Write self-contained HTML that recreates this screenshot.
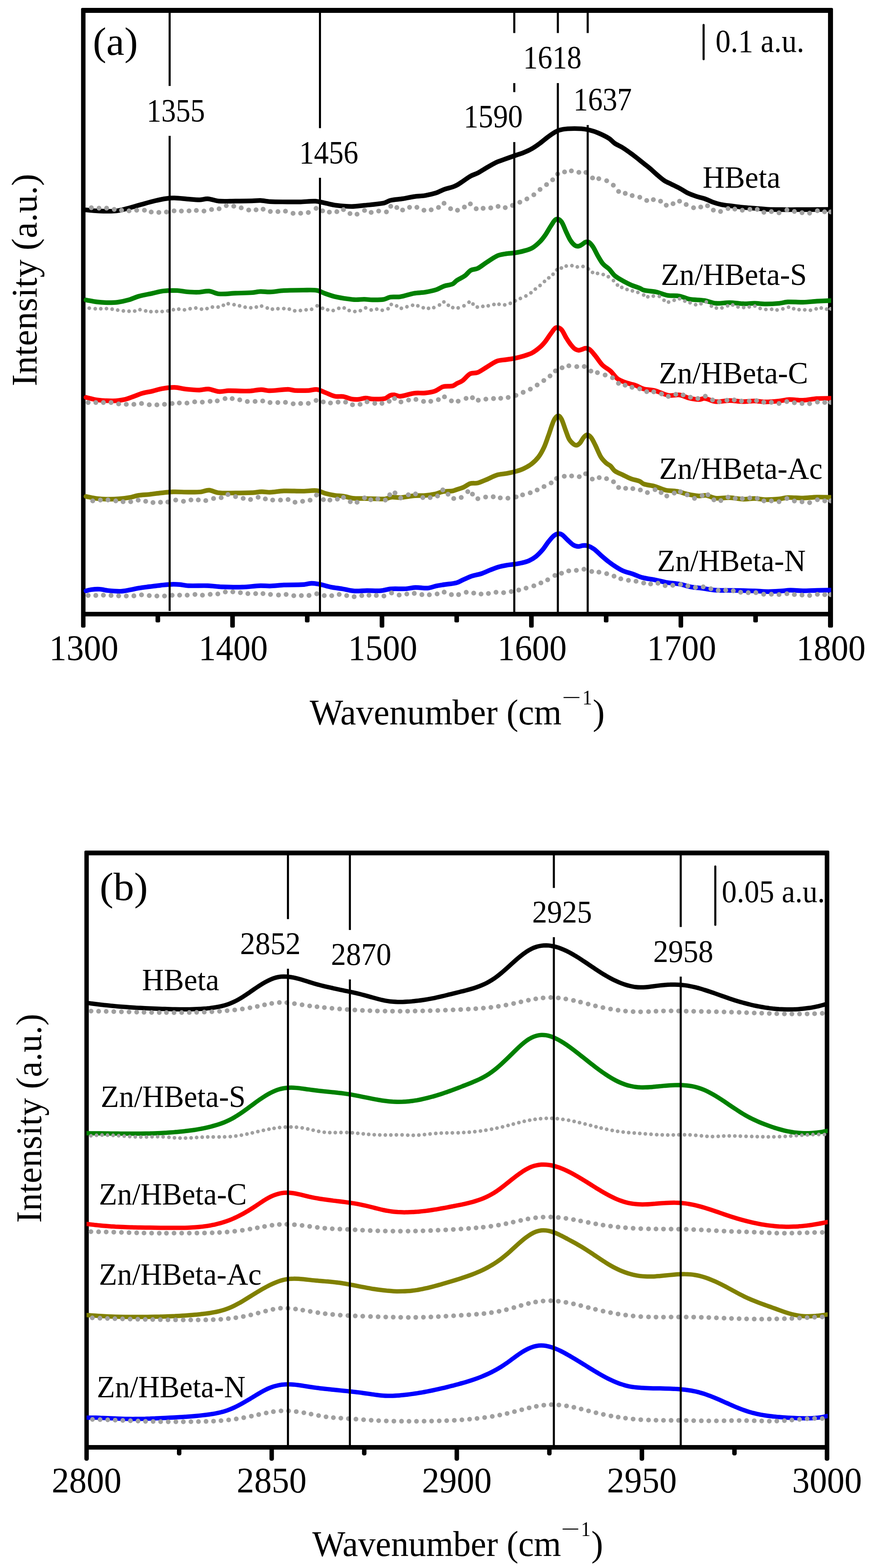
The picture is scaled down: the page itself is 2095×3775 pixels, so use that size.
<!DOCTYPE html>
<html lang="en"><head><meta charset="utf-8"><title>FTIR spectra</title>
<style>html,body{margin:0;padding:0;background:#fff}svg{display:block}text{font-family:'Liberation Serif', 'Times New Roman', Times, serif;fill:#000;white-space:pre}</style></head>
<body>
<svg width="2095" height="3775" viewBox="0 0 2095 3775">
<rect width="2095" height="3775" fill="#fff"/>
<g id="panel-a">
<path d="M205.9 1507.5A3.5 3.5 0 0 1 202.4 1511H198.8A3.5 3.5 0 0 1 195.2 1507.5V21.9A3 3 0 0 1 198.2 18.9H2002.9A3 3 0 0 1 2005.9 21.9V1507.5A3.5 3.5 0 0 1 2002.4 1511H1997.4A3.5 3.5 0 0 1 1993.9 1507.5V30.9H205.9Z" fill="#000"/>
<path d="M200.6 1478.5H1999.9" fill="none" stroke="#000" stroke-width="11"/>
<path d="M554.4 1478.5V1507.5A3.5 3.5 0 0 0 557.9 1511H562A3.5 3.5 0 0 0 565.5 1507.5V1478.5ZM914.3 1478.5V1507.5A3.5 3.5 0 0 0 917.8 1511H921.9A3.5 3.5 0 0 0 925.4 1507.5V1478.5ZM1274.1 1478.5V1507.5A3.5 3.5 0 0 0 1277.6 1511H1281.7A3.5 3.5 0 0 0 1285.2 1507.5V1478.5ZM1634 1478.5V1507.5A3.5 3.5 0 0 0 1637.5 1511H1641.6A3.5 3.5 0 0 0 1645.1 1507.5V1478.5ZM374.5 1478.5V1495A3.5 3.5 0 0 0 378 1498.5H382.1A3.5 3.5 0 0 0 385.6 1495V1478.5ZM734.3 1478.5V1495A3.5 3.5 0 0 0 737.8 1498.5H741.9A3.5 3.5 0 0 0 745.4 1495V1478.5ZM1094.2 1478.5V1495A3.5 3.5 0 0 0 1097.7 1498.5H1101.8A3.5 3.5 0 0 0 1105.3 1495V1478.5ZM1454.1 1478.5V1495A3.5 3.5 0 0 0 1457.6 1498.5H1461.7A3.5 3.5 0 0 0 1465.2 1495V1478.5ZM1813.9 1478.5V1495A3.5 3.5 0 0 0 1817.4 1498.5H1821.5A3.5 3.5 0 0 0 1825 1495V1478.5Z" fill="#000"/>
<clipPath id="clip-a"><rect x="194" y="24.9" width="1807.5" height="1453.6"/></clipPath>
<g clip-path="url(#clip-a)" fill="none">
<path d="M207 505.4C215.8 506.2 224.6 507.5 233.4 507.7C248.9 508.2 264.5 509.4 280.1 507.7C292.3 506.5 304.5 502.2 316.7 499.1C324.5 497.1 332.3 494.5 340.1 492.4C351.2 489.3 362.3 486 373.4 483.4C382.3 481.3 391.2 479.3 400.1 478.1C406.8 477.1 413.5 476.6 420.1 476.7C430.2 476.9 440.2 478.3 450.2 479.1C460.2 479.8 470.2 481.1 480.2 481.1C486.9 481 493.5 478.3 500.2 478.7C509.1 479.3 518 483.3 526.9 484.1C540.2 485.1 553.6 484.1 566.9 484.1C580.3 484 593.6 484 606.9 483.7C613.6 483.6 620.3 482.5 627 482.7C634.6 483 642.3 485 650 485.4C664.5 486.1 678.9 485.9 693.4 486.1C703.4 486.1 713.4 486.3 723.4 486.1C735.6 485.8 747.8 483.8 760.1 484.4C767.9 484.8 775.6 487.5 783.4 489.1C792.3 490.8 801.2 493.3 810.1 494.4C822.3 495.9 834.6 497.1 846.8 497.1C856.8 497.1 866.8 495.4 876.8 494.4C892.4 492.8 907.9 492 923.5 489.1C929.1 488 934.6 483.7 940.2 482.4C950.2 480.1 960.2 480 970.2 478.4C979.1 477 988 474.7 996.9 473.4C1005.8 472.1 1014.7 472.2 1023.6 470.7C1032.5 469.2 1041.4 467.2 1050.3 464.4C1056.9 462.2 1063.6 458.1 1070.3 455.7C1077 453.3 1083.6 452.3 1090.3 450C1093.5 449 1096.8 447.5 1100 445.8C1103.9 443.7 1107.8 441 1111.7 438.4C1118.9 433.7 1126.1 427.8 1133.4 423.8C1138.9 420.6 1144.5 419.6 1150 416.8C1155.6 413.9 1161.2 410 1166.7 406.8C1175.6 401.6 1184.5 396.1 1193.4 391.7C1200.1 388.5 1206.7 386.5 1213.4 384.1C1221.7 381 1230.1 378 1238.4 375.1C1245.7 372.5 1252.9 370.6 1260.1 367.7C1266.8 365.1 1273.4 362.2 1280.1 358.4C1286.8 354.6 1293.5 349.9 1300.1 345C1305.7 341 1311.3 335.9 1316.8 331.7C1322.4 327.5 1327.9 323.4 1333.5 320C1337.9 317.3 1342.4 314.7 1346.8 313.4C1353.5 311.4 1360.2 310.4 1366.8 310C1378 309.3 1389.1 309.3 1400.2 310C1406.9 310.4 1413.5 311.7 1420.2 313.4C1426.9 315 1433.6 317.2 1440.2 320C1449.1 323.8 1458 327.8 1466.9 333.4C1471.4 336.1 1475.8 342 1480.3 345C1486.9 349.6 1493.6 351.8 1500.3 356.1C1509.2 361.8 1518.1 368.4 1527 375.1C1534.6 380.8 1542.3 387.2 1550 393.3C1555.6 397.8 1561.1 402 1566.7 406.7C1572.2 411.4 1577.8 417 1583.4 421.7C1588.9 426.4 1594.5 431.4 1600 435C1605.6 438.7 1611.2 440.6 1616.7 443.4C1623.4 446.7 1630.1 449.8 1636.7 453.4C1643.4 457 1650.1 461.8 1656.7 465.1C1663.4 468.3 1670.1 470.5 1676.8 472.7C1683.4 475 1690.1 476.1 1696.8 478.4C1703.4 480.7 1710.1 484.4 1716.8 486.7C1723.4 489.1 1730.1 491.1 1736.8 492.4C1745.7 494.2 1754.6 494.9 1763.5 496.1C1772.4 497.2 1781.3 498.5 1790.2 499.4C1799.1 500.3 1807.9 500.7 1816.8 501.4C1828 502.3 1839.1 503.5 1850.2 504.1C1861.3 504.6 1872.4 504.6 1883.6 504.7C1894.7 504.9 1905.8 504.7 1916.9 504.7C1928 504.7 1939.1 504.8 1950.3 504.7C1966.9 504.6 1983.6 504.3 2000.3 504.1C2001.4 504.1 2002.4 504.1 2003.5 504.1" stroke="#000" stroke-width="11.2" stroke-linejoin="round" stroke-linecap="round"/>
<path d="M220 500.1h0M238.4 501.1h0M256.7 501.1h0M275.1 504.1h0M292.7 506.1h0M310.7 507.7h0M329.1 506.1h0M347.8 506.1h0M364.1 510.4h0M382.5 511.4h0M400.8 510.4h0M419.1 507.7h0M436.8 508.1h0M455.2 507.7h0M472.8 506.7h0M491.2 508.1h0M509.5 504.4h0M527.6 502.7h0M544.9 495.1h0M562.9 496.4h0M580.9 500.4h0M598.9 505.7h0M616.6 505.1h0M633.6 503.7h0M651 509.1h0M669.3 509.4h0M687.4 508.4h0M705.7 513.7h0M724 513.4h0M742.4 511.7h0M761.1 501.7h0M776.8 507.7h0M793.1 510.7h0M811.1 509.7h0M827.1 504.7h0M842.8 514.1h0M859.8 515.7h0M877.8 506.7h0M893.8 511.4h0M911.8 508.1h0M930.5 510.1h0M940.9 496.7h0M955.5 499.7h0M969.5 505.7h0M986.2 499.1h0M1003.9 499.1h0M1020.9 506.1h0M1038.3 505.1h0M1055.9 499.4h0M1069.3 489.4h0M1085 502.4h0M1101.7 506.2h0M1118.3 498.5h0M1132.7 490.8h0M1146.7 502.5h0M1163.4 501.5h0M1181.7 500.5h0M1199.4 496.8h0M1216.7 499.8h0M1234.1 494.5h0M1251.8 486.8h0M1268.8 478.8h0M1285.5 468.8h0M1300.5 456.1h0M1316.1 444.4h0M1330.8 432.8h0M1342.8 418.8h0M1359.5 413.8h0M1375.9 411.4h0M1393.9 414.8h0M1410.9 415.1h0M1426.9 428.4h0M1441.9 430.1h0M1460.9 435.1h0M1476.9 445.8h0M1489.6 460.8h0M1505.6 465.5h0M1522.3 470.8h0M1540.6 474.8h0M1557.3 482.7h0M1573.3 480.7h0M1590.7 484.4h0M1604.4 494.1h0M1620.7 490.4h0M1636.4 484.4h0M1652.4 492.4h0M1670.1 500.1h0M1687.4 498.4h0M1703.8 495.4h0M1717.8 505.8h0M1735.1 509.1h0M1753.1 502.1h0M1769.5 503.4h0M1787.5 506.1h0M1805.8 504.1h0M1823.5 504.1h0M1839.5 511.1h0M1857.5 509.4h0M1875.9 512.4h0M1894.9 505.4h0M1912.9 509.1h0M1931.3 512.1h0M1949.6 513.1h0M1968.3 507.4h0M1985.6 509.8h0M2000.3 510.1h0" stroke="#a0a0a0" stroke-width="11.8" stroke-linecap="round"/>
<path d="M207 722.2C215.8 723.8 224.6 725.8 233.4 726.9C241.1 727.9 248.9 728.4 256.7 728.6C265.6 728.7 274.5 728.7 283.4 727.6C292.3 726.4 301.2 724.4 310.1 721.9C317.9 719.7 325.6 715.7 333.4 713.5C344.5 710.5 355.7 708.6 366.8 706.2C375.7 704.3 384.6 701.5 393.5 700.5C404.6 699.3 415.7 699.1 426.8 699.5C434.6 699.8 442.4 701.9 450.2 702.5C459.1 703.2 468 703.8 476.9 703.5C485.7 703.3 494.6 700.2 503.5 700.9C511.3 701.5 519.1 706.9 526.9 707.5C540.2 708.6 553.6 706.4 566.9 705.9C580.3 705.4 593.6 705.4 606.9 704.5C613.6 704.1 620.3 702.1 627 701.9C634.6 701.6 642.3 703.2 650 702.9C661.1 702.4 672.2 700.1 683.4 699.5C698.9 698.7 714.5 698.6 730.1 698.5C741.2 698.5 752.3 697.5 763.4 699.2C770.1 700.2 776.8 704.6 783.4 706.9C791.2 709.6 799 712.4 806.8 714.2C816.8 716.6 826.8 718.1 836.8 719.5C843.5 720.5 850.1 721.4 856.8 721.5C863.5 721.7 870.1 720.5 876.8 720.5C883.5 720.6 890.2 721.8 896.8 721.9C905.7 721.9 914.6 722.2 923.5 720.9C929.1 720 934.6 716.1 940.2 715.2C948 714 955.8 715.8 963.5 714.5C974.7 712.8 985.8 708.2 996.9 706.2C1005.8 704.6 1014.7 705 1023.6 703.5C1032.5 702.1 1041.4 700.4 1050.3 697.5C1056.9 695.4 1063.6 690.9 1070.3 688.5C1077 686.2 1083.6 686.5 1090.3 683.5C1093.5 682.1 1096.8 677.4 1100 675.3C1106.7 670.8 1113.3 668.5 1120 663.6C1124.5 660.3 1128.9 653.5 1133.4 650.9C1138.9 647.7 1144.5 649 1150 646.2C1156.7 643 1163.4 637.2 1170 632.9C1178.9 627.2 1187.8 620.4 1196.7 616.2C1203.4 613.1 1210.1 612.4 1216.7 611.2C1224 609.9 1231.2 610 1238.4 608.9C1245.7 607.8 1252.9 606.6 1260.1 604.5C1267.3 602.5 1274.6 601 1281.8 596.9C1287.9 593.4 1294 588 1300.1 581.9C1304.6 577.4 1309 571.6 1313.5 565.2C1317.9 558.8 1322.4 550.1 1326.8 543.5C1330.7 537.7 1334.6 529.7 1338.5 528.2C1342.9 526.4 1347.4 528.1 1351.8 533.5C1355.7 538.2 1359.6 550.4 1363.5 558.5C1366.8 565.4 1370.2 573.3 1373.5 578.5C1376.9 583.8 1380.2 587.6 1383.5 590.2C1386.3 592.4 1389.1 593 1391.9 592.9C1394.6 592.8 1397.4 591.1 1400.2 589.5C1403.5 587.7 1406.9 584 1410.2 582.9C1413 582 1415.8 581.7 1418.5 583.5C1421.9 585.8 1425.2 590.1 1428.6 595.2C1432.4 601.2 1436.3 610.2 1440.2 616.9C1444.1 623.6 1448 630.7 1451.9 635.2C1456.9 641.1 1461.9 642.9 1466.9 647.9C1471.4 652.4 1475.8 659.8 1480.3 663.6C1486.9 669.3 1493.6 672.5 1500.3 676.3C1506.9 680 1513.6 683.4 1520.3 686.3C1527 689.2 1533.6 690.9 1540.3 693.6C1543.5 694.9 1546.8 697.8 1550 698.5C1560 700.9 1570 700.7 1580 702.9C1588.9 704.8 1597.8 709.3 1606.7 710.9C1616.7 712.7 1626.7 711.1 1636.7 712.9C1644.5 714.3 1652.3 718.8 1660.1 720.2C1672.3 722.4 1684.5 721.6 1696.8 723.6C1705.7 725 1714.6 729.5 1723.4 730.2C1734.6 731.2 1745.7 728.4 1756.8 728.6C1767.9 728.7 1779 730.9 1790.2 731.2C1799.1 731.5 1807.9 730.1 1816.8 730.2C1825.7 730.3 1834.6 731.9 1843.5 731.9C1854.6 731.9 1865.8 731.3 1876.9 730.2C1883.6 729.6 1890.2 727.2 1896.9 726.9C1909.1 726.3 1921.4 727.9 1933.6 727.6C1944.7 727.3 1955.8 725.9 1966.9 725.2C1978.1 724.6 1989.2 724.1 2000.3 723.6C2001.4 723.5 2002.4 723.5 2003.5 723.5" stroke="#008000" stroke-width="11.2" stroke-linejoin="round" stroke-linecap="round"/>
<path d="M215 741.9h0M229.4 743.2h0M242.7 743.2h0M256.4 742.9h0M270 744.2h0M283.4 746.6h0M297.1 748.6h0M310.7 749.2h0M324.4 748.9h0M337.1 745.6h0M350.8 748.6h0M363.4 750.2h0M377.1 749.9h0M390.5 749.9h0M404.1 748.6h0M417.5 745.6h0M430.5 744.2h0M444.2 745.9h0M457.8 743.2h0M471.5 741.6h0M485.2 744.2h0M498.5 742.9h0M511.5 739.2h0M525.2 739.2h0M537.9 734.9h0M549.6 731.2h0M563.6 733.6h0M576.9 736.2h0M590.3 739.6h0M603.9 740.9h0M617.3 739.2h0M630 736.9h0M643.6 741.6h0M656 744.2h0M669.3 743.2h0M683.4 742.9h0M696.7 744.2h0M709.7 748.2h0M723.4 747.6h0M737.1 745.9h0M750.4 744.6h0M763.7 736.2h0M776.8 742.2h0M789.1 745.9h0M802.4 747.6h0M815.8 742.2h0M828.8 741.6h0M840.8 747.6h0M854.5 749.9h0M867.8 747.9h0M880.5 741.2h0M893.8 746.2h0M907.2 744.2h0M920.5 746.9h0M934.5 743.2h0M942.2 732.9h0M955.2 736.6h0M966.5 742.2h0M979.9 738.6h0M993.6 734.9h0M1006.2 736.2h0M1019.2 740.9h0M1031.9 742.2h0M1044.6 740.6h0M1058.3 734.2h0M1068.9 726.9h0M1079.6 734.9h0M1090.3 740.6h0M1103.3 741.3h0M1117.3 736.3h0M1129.4 727.6h0M1139 732h0M1149.4 739.3h0M1162.7 737.6h0M1175.7 736.3h0M1189.4 733h0M1201.7 732.6h0M1215.4 734h0M1228.8 730.3h0M1240.8 724.3h0M1253.1 718.6h0M1266.4 712.6h0M1278.5 704.9h0M1289.1 695.9h0M1300.5 687.3h0M1311.1 677.6h0M1321.5 668.9h0M1331.8 660.3h0M1340.8 649.6h0M1351.8 645.2h0M1363.5 640.6h0M1377.2 639.6h0M1390.2 642.6h0M1403.9 641.6h0M1416.9 647.6h0M1426.9 655.9h0M1438.9 658.3h0M1452.6 660.9h0M1464.9 666.3h0M1477.3 675.6h0M1486.9 686.3h0M1497.3 691.9h0M1509.9 696.9h0M1522.9 700.3h0M1536 703.9h0M1550 710.2h0M1560 714.6h0M1573.3 712.9h0M1587.7 713.6h0M1599 722.9h0M1610 727.2h0M1623.4 722.9h0M1636.4 719.2h0M1649.1 724.9h0M1661.7 728.9h0M1675.1 733.6h0M1688.1 731.2h0M1700.8 726.9h0M1713.1 736.9h0M1725.1 741.6h0M1738.5 741.2h0M1752.1 736.2h0M1764.5 734.2h0M1777.2 738.9h0M1790.8 740.2h0M1804.2 738.9h0M1817.8 736.9h0M1830.5 742.6h0M1844.2 744.9h0M1858.2 744.6h0M1871.2 746.2h0M1885.2 743.6h0M1898.9 739.6h0M1911.2 743.2h0M1924.2 745.6h0M1937.9 745.9h0M1951.6 746.9h0M1965.3 743.6h0M1977.6 741.6h0M1990.6 744.2h0M2000.3 743.6h0" stroke="#a0a0a0" stroke-width="9" stroke-linecap="round"/>
<path d="M207 956.7C215.8 958.7 224.6 961.6 233.4 962.7C246.7 964.4 260 965.3 273.4 965.1C282.3 964.9 291.2 963.6 300.1 961.7C306.7 960.3 313.4 957.4 320.1 955.1C327.9 952.4 335.6 948.9 343.4 946.7C351.2 944.5 359 943.6 366.8 941.7C374.6 939.9 382.3 937 390.1 935.7C400.1 934 410.1 932.5 420.1 932.7C429 932.9 437.9 935.8 446.8 936.7C457.9 937.9 469.1 939.1 480.2 939.1C487.4 939.1 494.6 936.1 501.9 936.7C510.2 937.4 518.5 942 526.9 942.7C534.7 943.4 542.5 940.9 550.2 940.7C566.9 940.4 583.6 942 600.3 941.4C609.7 941.1 619.2 938.2 628.6 938.1C635.7 938 642.9 940.8 650 940.7C664.5 940.6 678.9 937.5 693.4 937.4C698.9 937.3 704.5 939.8 710 940.1C721.2 940.6 732.3 940.5 743.4 940.1C750.1 939.8 756.7 936.9 763.4 937.7C770.1 938.6 776.8 942.5 783.4 945.1C791.2 948 799 952.3 806.8 954.1C813.4 955.6 820.1 953.6 826.8 954.7C833.5 955.8 840.1 959.5 846.8 960.7C852.4 961.7 857.9 961.8 863.5 961.4C869 961 874.6 958.5 880.2 958.4C885.7 958.3 891.3 960.6 896.8 960.7C906.8 960.9 916.8 961.5 926.9 959.4C931.3 958.5 935.7 953.4 940.2 951.7C943.5 950.5 946.9 950.4 950.2 950.7C954.6 951.2 959.1 954.4 963.5 954.1C974.7 953.1 985.8 948.2 996.9 946.7C1005.8 945.5 1014.7 946.9 1023.6 946.1C1031.4 945.3 1039.1 944.4 1046.9 941.7C1053.6 939.4 1060.3 933 1066.9 931C1074.7 928.8 1082.5 930.8 1090.3 929C1093.5 928.3 1096.8 925.2 1100 923.4C1104.4 921.1 1108.9 920 1113.3 916.8C1119.5 912.3 1125.6 903.4 1131.7 900.1C1137.8 896.8 1143.9 899.2 1150 896.8C1156.7 894.1 1163.4 889 1170 885.1C1178.9 879.9 1187.8 873 1196.7 869.4C1203.4 866.7 1210.1 867.1 1216.7 866.1C1224 864.9 1231.2 864.2 1238.4 862.7C1245.7 861.3 1252.9 859.6 1260.1 857.4C1267.3 855.2 1274.6 853.2 1281.8 849.4C1287.9 846.1 1294 841.4 1300.1 836.1C1304.6 832.2 1309 827.3 1313.5 821.7C1317.9 816.1 1322.4 808.5 1326.8 802.7C1330.7 797.6 1334.6 790.5 1338.5 789C1342.9 787.4 1347.4 789 1351.8 793.4C1355.7 797.1 1359.6 807.1 1363.5 813.4C1366.8 818.8 1370.2 824 1373.5 828.4C1376.9 832.7 1380.2 836.9 1383.5 839.4C1386.9 841.9 1390.2 843.1 1393.5 843.4C1396.3 843.6 1399.1 841.9 1401.9 841.1C1404.6 840.2 1407.4 838.3 1410.2 838.4C1413.5 838.5 1416.9 839.1 1420.2 841.7C1424.7 845.2 1429.1 851.3 1433.6 856.7C1439.1 863.5 1444.7 872.9 1450.2 878.4C1456.9 885.1 1463.6 887.4 1470.2 893.4C1475.8 898.5 1481.4 907.6 1486.9 911.8C1493.6 916.8 1500.3 918.6 1506.9 921.1C1514.7 924 1522.5 925 1530.3 927.8C1536.9 930.1 1543.4 934.5 1550 936.3C1558.9 938.6 1567.8 937.9 1576.7 940.3C1587.8 943.2 1598.9 950 1610 951.9C1618.9 953.5 1627.8 949.7 1636.7 950.9C1644.5 952 1652.3 956.8 1660.1 958.6C1667.9 960.4 1675.6 961.8 1683.4 961.9C1687.9 962 1692.3 958.7 1696.8 959.3C1705.7 960.4 1714.6 966.2 1723.4 966.9C1734.6 967.9 1745.7 964.3 1756.8 964.3C1767.9 964.3 1779 966.8 1790.2 966.9C1799.1 967.1 1807.9 965.2 1816.8 965.3C1825.7 965.4 1834.6 967.6 1843.5 967.6C1854.6 967.6 1865.8 966.4 1876.9 965.3C1884.7 964.5 1892.5 962.2 1900.2 961.9C1911.4 961.6 1922.5 964 1933.6 963.6C1944.7 963.2 1955.8 960.4 1966.9 959.6C1978.1 958.8 1989.2 959.1 2000.3 958.9C2001.4 958.9 2002.4 958.9 2003.5 958.9" stroke="#f00" stroke-width="11.2" stroke-linejoin="round" stroke-linecap="round"/>
<path d="M212.3 969.1h0M230.7 969.1h0M249 969.1h0M267.4 969.1h0M285.7 972.4h0M304.1 973.4h0M322.4 973.4h0M340.8 971.4h0M359.4 974.4h0M377.8 974.7h0M396.1 973.4h0M414.5 971.4h0M431.8 970.1h0M450.2 970.4h0M468.8 967.4h0M487.2 968.1h0M505.9 966.1h0M523.2 965.1h0M541.9 959.7h0M559.2 959.7h0M577.3 962.7h0M595.6 966.7h0M614.3 966.4h0M632.6 965.4h0M650.3 969.1h0M669 969.1h0M687.4 968.7h0M706 972.1h0M724 971.4h0M742.4 971.1h0M761.1 964.1h0M778.4 967.7h0M795.8 970.1h0M814.1 968.1h0M832.1 968.1h0M848.8 974.4h0M867.1 973.4h0M883.8 967.4h0M902.5 971.1h0M919.8 971.1h0M937.2 966.1h0M950.2 959.4h0M965.5 967.7h0M983.9 963.1h0M1001.6 961.7h0M1019.9 966.4h0M1037.3 966.1h0M1055.6 962.1h0M1070.3 955.4h0M1087 965.1h0M1103.3 965.8h0M1122.3 959.1h0M1137.7 957.5h0M1151.7 963.5h0M1170 960.8h0M1188.4 959.5h0M1205.7 958.8h0M1223.7 956.8h0M1242.4 951.8h0M1259.8 944.5h0M1277.1 936.8h0M1293.5 926.8h0M1309.5 916.1h0M1324.5 905.1h0M1337.5 892.8h0M1353.5 885.4h0M1369.8 880.7h0M1388.9 882.7h0M1406.9 882.4h0M1422.9 893.4h0M1438.6 897.1h0M1457.2 902.8h0M1474.9 909.4h0M1489.3 922.8h0M1505.3 927.4h0M1521.9 932.4h0M1540.3 936.1h0M1557.3 942.9h0M1574.3 943.3h0M1593 948.3h0M1609.4 954.3h0M1627.4 949.3h0M1645.1 950.9h0M1662.7 956.3h0M1680.4 959.3h0M1698.4 953.9h0M1715.8 962.9h0M1732.1 967.3h0M1750.5 963.6h0M1768.1 962.9h0M1785.5 965.6h0M1804.2 965.6h0M1821.8 964.6h0M1839.2 968.3h0M1857.5 968.6h0M1875.9 971.3h0M1894.6 966.9h0M1912.9 969.6h0M1931.3 971.3h0M1949.6 971.9h0M1968.3 967.9h0M1986 968.9h0M2000.3 968.9h0" stroke="#a0a0a0" stroke-width="11.8" stroke-linecap="round"/>
<path d="M207 1195.2C215.8 1196.9 224.6 1199.1 233.4 1200.2C242.3 1201.3 251.1 1201.8 260 1201.9C268.9 1202 277.8 1201.6 286.7 1200.9C295.6 1200.2 304.5 1199.1 313.4 1197.6C320.1 1196.4 326.8 1193.6 333.4 1192.6C342.3 1191.2 351.2 1191.2 360.1 1190.2C369 1189.3 377.9 1187.8 386.8 1186.9C396.8 1185.8 406.8 1184.5 416.8 1184.2C429 1183.8 441.3 1184.9 453.5 1184.9C463.5 1184.9 473.5 1185.2 483.5 1184.2C490.2 1183.6 496.9 1179.9 503.5 1180.2C510.8 1180.6 518 1185.5 525.2 1186.2C539.1 1187.7 553 1186.9 566.9 1186.9C580.3 1186.9 593.6 1186.8 606.9 1186.2C614.7 1185.8 622.5 1184.1 630.3 1183.9C636.9 1183.7 643.4 1185.5 650 1185.2C661.1 1184.8 672.2 1182.3 683.4 1181.9C698.9 1181.4 714.5 1182.7 730.1 1182.5C741.2 1182.5 752.3 1180.1 763.4 1181.2C770.1 1181.9 776.8 1186.1 783.4 1187.9C791.2 1190 799 1191.7 806.8 1192.9C813.4 1193.9 820.1 1193.5 826.8 1194.6C834.6 1195.8 842.4 1198.7 850.1 1199.6C859 1200.6 867.9 1200 876.8 1200.2C885.7 1200.4 894.6 1200.7 903.5 1200.9C911.3 1201 919.1 1202 926.9 1201.2C932.4 1200.7 938 1197.4 943.5 1196.9C950.2 1196.3 956.9 1198.3 963.5 1197.9C974.7 1197.2 985.8 1194.5 996.9 1193.6C1005.8 1192.8 1014.7 1193.6 1023.6 1192.9C1031.4 1192.3 1039.1 1191.2 1046.9 1189.6C1053.6 1188.1 1060.3 1184.7 1066.9 1183.5C1074.7 1182.2 1082.5 1183 1090.3 1181.9C1093.5 1181.4 1096.8 1179.7 1100 1178.6C1105.6 1176.7 1111.1 1175.5 1116.7 1172.9C1121.7 1170.7 1126.7 1165.8 1131.7 1164.3C1137.8 1162.4 1143.9 1164.4 1150 1162.9C1156.7 1161.4 1163.4 1158 1170 1155.3C1178.9 1151.6 1187.8 1146.4 1196.7 1143.6C1203.4 1141.4 1210.1 1141.5 1216.7 1140.3C1224 1138.9 1231.2 1137.9 1238.4 1135.9C1245.7 1134 1252.9 1131.9 1260.1 1128.6C1266.8 1125.5 1273.4 1122.1 1280.1 1116.9C1285.7 1112.6 1291.2 1107.6 1296.8 1100.2C1301.2 1094.3 1305.7 1086.4 1310.1 1076.9C1313.5 1069.7 1316.8 1059.4 1320.1 1050.2C1324.6 1038 1329 1022 1333.5 1012.7C1336.8 1005.7 1340.2 1001.9 1343.5 1001.2C1346.3 1000.5 1349.1 1003.3 1351.8 1008.5C1355.2 1014.7 1358.5 1026.4 1361.8 1035.2C1364.6 1042.5 1367.4 1051.8 1370.2 1056.9C1373.5 1062.9 1376.9 1065.8 1380.2 1068.5C1383 1070.8 1385.7 1072.3 1388.5 1071.9C1391.3 1071.5 1394.1 1069.3 1396.9 1066.2C1399.6 1063.1 1402.4 1056.8 1405.2 1053.5C1408 1050.3 1410.8 1046.9 1413.5 1046.9C1416.9 1046.9 1420.2 1049.4 1423.5 1053.5C1426.9 1057.7 1430.2 1065.2 1433.6 1071.9C1438 1080.8 1442.5 1093 1446.9 1100.2C1451.3 1107.5 1455.8 1111.1 1460.2 1115.2C1463.6 1118.3 1466.9 1118.9 1470.2 1121.9C1473.6 1125 1476.9 1131.2 1480.3 1133.6C1486.9 1138.4 1493.6 1140.4 1500.3 1143.6C1506.9 1146.8 1513.6 1150.4 1520.3 1152.9C1527 1155.4 1533.6 1155.9 1540.3 1158.6C1543.5 1159.9 1546.8 1164 1550 1165.1C1558.9 1168.1 1567.8 1168.3 1576.7 1170.8C1585.6 1173.3 1594.5 1178.1 1603.4 1180.1C1612.3 1182.1 1621.2 1181.1 1630.1 1182.8C1638.9 1184.4 1647.8 1188.2 1656.7 1190.1C1665.6 1192 1674.5 1193.6 1683.4 1194.1C1689 1194.4 1694.5 1192 1700.1 1192.8C1707.9 1193.8 1715.7 1198.7 1723.4 1199.4C1734.6 1200.5 1745.7 1197.7 1756.8 1198.1C1767.9 1198.5 1779 1201.4 1790.2 1201.8C1799.1 1202.1 1807.9 1199.9 1816.8 1200.1C1825.7 1200.3 1834.6 1202.6 1843.5 1202.8C1854.6 1203 1865.8 1202.1 1876.9 1201.1C1883.6 1200.5 1890.2 1198 1896.9 1197.8C1909.1 1197.3 1921.4 1199.3 1933.6 1199.1C1944.7 1198.9 1955.8 1197 1966.9 1196.8C1978.1 1196.5 1989.2 1197.2 2000.3 1197.4C2001.4 1197.5 2002.4 1197.5 2003.5 1197.5" stroke="#808000" stroke-width="11.2" stroke-linejoin="round" stroke-linecap="round"/>
<path d="M223.3 1205.9h0M241.7 1203.9h0M260 1203.6h0M278.7 1205.9h0M296.4 1207.9h0M314.7 1207.9h0M332.8 1204.2h0M350.8 1206.9h0M368.4 1209.9h0M386.5 1209.2h0M404.1 1208.6h0M423.1 1203.9h0M441.8 1206.9h0M459.8 1203.6h0M477.5 1203.6h0M495.5 1205.2h0M514.2 1200.2h0M532.6 1198.2h0M548.9 1190.6h0M567.2 1195.6h0M585.6 1199.9h0M603.3 1202.6h0M621.6 1197.2h0M639 1201.2h0M656.6 1203.9h0M675.4 1203.9h0M693.7 1202.6h0M710.4 1209.2h0M728.7 1206.9h0M746.7 1204.2h0M762.1 1191.9h0M778.8 1202.9h0M794.4 1203.9h0M812.4 1201.6h0M827.1 1197.6h0M843.5 1207.9h0M859.8 1209.2h0M877.8 1198.6h0M892.8 1203.2h0M909.8 1201.2h0M927.9 1203.9h0M938.5 1191.2h0M951.2 1186.6h0M964.9 1198.9h0M983.2 1191.2h0M1000.6 1189.2h0M1018.2 1197.9h0M1035.9 1197.9h0M1053.6 1194.2h0M1066.3 1179.5h0M1079 1189.9h0M1092.6 1200.2h0M1110.7 1197.6h0M1126.4 1183.6h0M1137.7 1189.6h0M1150.7 1200.6h0M1169.4 1196.6h0M1187.7 1196h0M1204.7 1198.6h0M1223.1 1199.3h0M1242.8 1196.3h0M1258.4 1191.3h0M1276.8 1186.3h0M1293.5 1179.6h0M1310.1 1171.3h0M1327.2 1162.6h0M1340.2 1151.9h0M1358.8 1146.6h0M1376.5 1145.9h0M1394.9 1147.6h0M1410.2 1140.6h0M1426.2 1153.3h0M1442.9 1149.9h0M1460.6 1152.3h0M1477.3 1159.9h0M1489.6 1173.6h0M1506.6 1175.6h0M1523.9 1176.3h0M1542 1179.6h0M1559 1185.8h0M1577.4 1178.8h0M1592 1185.8h0M1605.7 1194.1h0M1623.7 1187.1h0M1638.4 1183.8h0M1654.7 1191.4h0M1672.4 1199.8h0M1690.8 1193.1h0M1704.8 1191.1h0M1719.1 1203.4h0M1735.8 1205.1h0M1753.1 1196.8h0M1770.5 1199.8h0M1787.5 1200.4h0M1805.5 1198.8h0M1823.5 1199.8h0M1839.5 1205.8h0M1857.5 1205.8h0M1875.9 1207.8h0M1894.9 1200.1h0M1912.9 1206.1h0M1931.3 1208.1h0M1949.6 1210.1h0M1968.3 1203.1h0M1986 1205.8h0M2000.3 1205.8h0" stroke="#a0a0a0" stroke-width="11.8" stroke-linecap="round"/>
<path d="M207 1422.5C211.3 1421.5 215.7 1420 220 1419.5C226.7 1418.6 233.4 1418.1 240 1418.5C246.7 1418.8 253.4 1421.1 260 1421.8C270 1422.8 280.1 1423.8 290.1 1423.5C297.8 1423.2 305.6 1421.4 313.4 1420.1C320.1 1419 326.8 1417.2 333.4 1416.1C342.3 1414.7 351.2 1413.6 360.1 1412.4C369 1411.3 377.9 1410.1 386.8 1409.1C395.7 1408.2 404.6 1407.1 413.5 1406.8C420.1 1406.5 426.8 1406.9 433.5 1407.4C440.2 1408 446.8 1409.8 453.5 1410.1C469.1 1410.7 484.6 1409.6 500.2 1410.1C511.3 1410.5 522.4 1412.3 533.6 1412.8C550.2 1413.4 566.9 1413.9 583.6 1413.4C598 1413 612.5 1410.7 627 1410.1C634.6 1409.8 642.3 1411 650 1410.8C661.1 1410.5 672.2 1408.9 683.4 1408.4C698.9 1407.8 714.5 1408.4 730.1 1407.4C736.7 1407 743.4 1404.6 750.1 1404.4C756.7 1404.3 763.4 1405.5 770.1 1406.8C779 1408.5 787.9 1411.7 796.8 1413.4C805.7 1415.2 814.6 1416 823.4 1417.5C833.5 1419.1 843.5 1422.1 853.5 1422.8C863.5 1423.5 873.5 1421.9 883.5 1421.8C894.6 1421.7 905.7 1422.9 916.8 1422.1C924.6 1421.6 932.4 1418.4 940.2 1417.8C952.4 1416.8 964.7 1418.1 976.9 1417.5C984.7 1417 992.5 1414.7 1000.2 1414.4C1010.2 1414.1 1020.2 1416.5 1030.3 1415.8C1036.9 1415.3 1043.6 1412.2 1050.3 1410.8C1056.9 1409.4 1063.6 1408.5 1070.3 1407.4C1080.2 1405.9 1090.1 1405.4 1100 1402.8C1105.6 1401.3 1111.1 1397.5 1116.7 1395.1C1123.3 1392.2 1130 1389 1136.7 1386.8C1144.5 1384.2 1152.3 1383.3 1160 1380.8C1166.7 1378.6 1173.4 1375 1180.1 1372.4C1186.7 1369.8 1193.4 1367 1200.1 1365.1C1206.7 1363.1 1213.4 1361.9 1220.1 1360.7C1226.2 1359.7 1232.3 1359.4 1238.4 1358.4C1244.5 1357.5 1250.7 1356.5 1256.8 1355.1C1262.3 1353.8 1267.9 1352.6 1273.4 1350.1C1279 1347.6 1284.6 1344.5 1290.1 1340.1C1295.7 1335.6 1301.2 1329.9 1306.8 1323.4C1311.3 1318.2 1315.7 1310.6 1320.1 1305C1324.6 1299.5 1329 1293.8 1333.5 1290C1336.8 1287.2 1340.2 1285.5 1343.5 1285C1346.8 1284.6 1350.2 1285.2 1353.5 1287.4C1357.9 1290.2 1362.4 1296 1366.8 1300C1371.3 1304.1 1375.7 1308.9 1380.2 1311.7C1384.1 1314.2 1388 1315.4 1391.9 1315.7C1395.8 1316 1399.6 1313.7 1403.5 1313.4C1407.4 1313.1 1411.3 1312.8 1415.2 1314C1420.2 1315.6 1425.2 1318.1 1430.2 1321.7C1435.8 1325.7 1441.3 1331.9 1446.9 1336.7C1453.6 1342.5 1460.2 1348.3 1466.9 1353.4C1472.5 1357.7 1478 1361.6 1483.6 1365.1C1489.1 1368.6 1494.7 1372.1 1500.3 1374.4C1508 1377.7 1515.8 1379.1 1523.6 1381.8C1531.3 1384.4 1539.1 1388.4 1546.8 1390.5C1556.8 1393.2 1566.7 1393.9 1576.7 1395.9C1585.6 1397.7 1594.5 1400.4 1603.4 1401.9C1614.5 1403.8 1625.6 1404.2 1636.7 1406.2C1645.6 1407.9 1654.5 1411.2 1663.4 1412.9C1672.3 1414.6 1681.2 1415.1 1690.1 1416.3C1701.2 1417.7 1712.3 1420.1 1723.4 1420.9C1734.6 1421.8 1745.7 1421.1 1756.8 1421.3C1767.9 1421.4 1779 1421.7 1790.2 1421.9C1799.1 1422.1 1807.9 1422.2 1816.8 1422.6C1828 1423 1839.1 1424.3 1850.2 1424.3C1861.3 1424.3 1872.4 1423.3 1883.6 1422.6C1890.2 1422.2 1896.9 1421 1903.6 1420.9C1913.6 1420.9 1923.6 1422.2 1933.6 1422.3C1944.7 1422.3 1955.8 1421.5 1966.9 1421.3C1978.1 1421 1989.2 1421 2000.3 1420.9C2001.4 1420.9 2002.4 1420.9 2003.5 1420.9" stroke="#00f" stroke-width="11.2" stroke-linejoin="round" stroke-linecap="round"/>
<path d="M212.3 1433.5h0M230.7 1433.5h0M249 1432.8h0M267.4 1433.5h0M285.7 1434.5h0M304.1 1434.8h0M322.4 1434.5h0M340.8 1432.1h0M359.4 1433.8h0M377.8 1434.8h0M396.1 1434.8h0M414.5 1433.1h0M432.5 1432.8h0M450.8 1432.8h0M469.5 1431.1h0M487.5 1432.8h0M506.2 1430.8h0M524.5 1429.8h0M542.6 1425.1h0M560.6 1424.8h0M578.9 1426.8h0M596.9 1429.1h0M615.6 1429.1h0M633.3 1429.1h0M651.3 1431.1h0M670.7 1432.5h0M689 1431.1h0M707.4 1434.1h0M725.7 1433.8h0M744.1 1433.5h0M762.7 1429.5h0M780.8 1433.8h0M798.8 1434.1h0M816.8 1431.1h0M834.8 1433.8h0M852.8 1436.5h0M871.1 1433.8h0M888.5 1433.1h0M906.2 1433.5h0M924.5 1434.8h0M942.9 1427.5h0M961.2 1432.5h0M979.6 1430.1h0M997.6 1428.5h0M1015.9 1431.5h0M1033.9 1431.8h0M1052.6 1429.8h0M1069.6 1425.5h0M1087 1431.5h0M1104.3 1431.5h0M1122.7 1425.8h0M1140.7 1427.8h0M1158.4 1430.1h0M1176.1 1428.8h0M1194.4 1425.8h0M1212.7 1426.8h0M1231.1 1424.1h0M1249.1 1420.5h0M1266.8 1415.8h0M1285.5 1410.4h0M1302.5 1403.4h0M1318.8 1395.8h0M1336.2 1385.4h0M1352.2 1380.1h0M1369.5 1374.4h0M1387.9 1373.1h0M1406.2 1370.4h0M1424.9 1375.8h0M1442.2 1377.4h0M1460.9 1381.1h0M1478.6 1387.1h0M1494.9 1393.4h0M1513.3 1397.1h0M1531.6 1399.4h0M1550 1403.6h0M1566.7 1405.9h0M1584.4 1404.2h0M1601.7 1409.9h0M1620 1409.2h0M1638.7 1407.2h0M1656.4 1410.6h0M1674.7 1414.2h0M1693.4 1412.9h0M1711.8 1417.3h0M1729.5 1421.3h0M1747.5 1420.9h0M1765.8 1422.3h0M1783.5 1425.9h0M1801.8 1426.9h0M1820.2 1426.9h0M1838.9 1430.6h0M1857.5 1430.6h0M1875.9 1431.3h0M1894.9 1429.3h0M1912.9 1431.3h0M1931.3 1432.6h0M1949.6 1433.6h0M1968.3 1430.9h0M1986 1431.6h0M2000.3 1431.6h0" stroke="#a0a0a0" stroke-width="11.8" stroke-linecap="round"/>
</g>
<path d="M408.5 31V207M408.5 327V1471M770.5 31V308.5M770.5 428V1474M1238.4 31V79.4M1238.4 200V221.8M1238.4 341.9V1474M1343.3 31V79.4M1343.3 200V1474M1415.2 31V79.4M1415.2 300.9V1474" fill="none" stroke="#000" stroke-width="5"/>
<path d="M1694.3 59.9V142.5" fill="none" stroke="#000" stroke-width="5" stroke-linecap="round"/>
<text transform="translate(223.4 131.5) scale(1.0203 1)" font-size="96">(a)</text>
<text transform="translate(353.3 291.8) scale(0.9054 1)" font-size="77.5">1355</text>
<text transform="translate(720.5 393.2) scale(0.9184 1)" font-size="77.5">1456</text>
<text transform="translate(1259.7 164.3) scale(0.9091 1)" font-size="77.5">1618</text>
<text transform="translate(1380.8 265.3) scale(0.9084 1)" font-size="77.5">1637</text>
<text transform="translate(1116.5 306.1) scale(0.9180 1)" font-size="77.5">1590</text>
<text transform="translate(1723 125.2) scale(0.9365 1)" font-size="77.5">0.1 a.u.</text>
<text transform="translate(1691.9 452) scale(0.9785 1)" font-size="75">HBeta</text>
<text transform="translate(1591.6 686) scale(0.9698 1)" font-size="75">Zn/HBeta-S</text>
<text transform="translate(1586.6 922.6) scale(0.9692 1)" font-size="75">Zn/HBeta-C</text>
<text transform="translate(1587.3 1153.4) scale(0.9638 1)" font-size="75">Zn/HBeta-Ac</text>
<text transform="translate(1582.6 1375) scale(0.9538 1)" font-size="75">Zn/HBeta-N</text>
<text transform="translate(118.5 1589.2) scale(0.9580 1)" font-size="87">1300</text>
<text transform="translate(478.3 1589.2) scale(0.9580 1)" font-size="87">1400</text>
<text transform="translate(838.2 1589.2) scale(0.9580 1)" font-size="87">1500</text>
<text transform="translate(1198 1589.2) scale(0.9580 1)" font-size="87">1600</text>
<text transform="translate(1557.9 1589.2) scale(0.9580 1)" font-size="87">1700</text>
<text transform="translate(1917.8 1589.2) scale(0.9580 1)" font-size="87">1800</text>
<g><text transform="translate(745.8 1743.9) scale(0.9806 1)" font-size="87">Wavenumber (cm</text><text transform="translate(1353.3 1696) scale(1.6123 1)" font-size="51">−</text><text transform="translate(1402.2 1696) scale(0.9300 1)" font-size="51">1</text><text transform="translate(1427.2 1743.9) scale(1.0000 1)" font-size="87">)</text></g>
<text transform="translate(88 930.1) rotate(-90) scale(1.0039 1)" font-size="87">Intensity (a.u.)</text>
</g>
<g id="panel-b">
<path d="M213.8 3512.3A4.5 4.5 0 0 1 209.3 3516.8H207.7A4.5 4.5 0 0 1 203.2 3512.3V2050.7A3 3 0 0 1 206.2 2047.7H1994A3 3 0 0 1 1997 2050.7V3512.3A4.5 4.5 0 0 1 1992.5 3516.8H1990.5A4.5 4.5 0 0 1 1986 3512.3V2059.3H213.8Z" fill="#000"/>
<path d="M208.5 3484.5H1991.5" fill="none" stroke="#000" stroke-width="10.8"/>
<path d="M648.9 3484.5V3512.3A4.5 4.5 0 0 0 653.4 3516.8H655.1A4.5 4.5 0 0 0 659.6 3512.3V3484.5ZM1094.6 3484.5V3512.3A4.5 4.5 0 0 0 1099.1 3516.8H1100.9A4.5 4.5 0 0 0 1105.4 3512.3V3484.5ZM1540.3 3484.5V3512.3A4.5 4.5 0 0 0 1544.8 3516.8H1546.7A4.5 4.5 0 0 0 1551.2 3512.3V3484.5ZM426 3484.5V3499.5A4.5 4.5 0 0 0 430.5 3504H432.3A4.5 4.5 0 0 0 436.8 3499.5V3484.5ZM871.7 3484.5V3499.5A4.5 4.5 0 0 0 876.2 3504H878A4.5 4.5 0 0 0 882.5 3499.5V3484.5ZM1317.5 3484.5V3499.5A4.5 4.5 0 0 0 1322 3504H1323.8A4.5 4.5 0 0 0 1328.3 3499.5V3484.5ZM1763.2 3484.5V3499.5A4.5 4.5 0 0 0 1767.7 3504H1769.5A4.5 4.5 0 0 0 1774 3499.5V3484.5Z" fill="#000"/>
<clipPath id="clip-b"><rect x="208.5" y="2053.5" width="1784.5" height="1431"/></clipPath>
<g clip-path="url(#clip-b)" fill="none">
<path d="M206.5 2414.5C210.5 2414.5 214.4 2415.1 218.4 2415.7C222.4 2416.2 226.4 2416.7 230.3 2417.2C234.3 2417.7 238.3 2418.2 242.3 2418.7C246.2 2419.2 250.2 2419.6 254.2 2420C258.2 2420.5 262.1 2420.9 266.1 2421.3C270.1 2421.6 274.1 2422 278 2422.4C282 2422.7 286 2423.1 290 2423.4C293.9 2423.7 297.9 2424 301.9 2424.3C305.9 2424.6 309.8 2424.9 313.8 2425.2C317.8 2425.4 321.8 2425.7 325.7 2425.9C329.7 2426.2 333.7 2426.4 337.7 2426.6C341.6 2426.8 345.6 2427 349.6 2427.2C353.6 2427.4 357.5 2427.6 361.5 2427.8C365.5 2428 369.5 2428.1 373.4 2428.3C377.4 2428.4 381.4 2428.6 385.4 2428.7C389.3 2428.9 393.3 2429 397.3 2429.1C401.2 2429.3 405.2 2429.4 409.2 2429.5C413.2 2429.6 417.1 2429.7 421.1 2429.8C425.1 2429.9 429.1 2429.9 433 2430C437 2430 441 2430 445 2430C448.9 2430 452.9 2430 456.9 2429.9C460.9 2429.8 464.8 2429.7 468.8 2429.6C472.8 2429.5 476.8 2429.3 480.7 2429C484.7 2428.8 488.7 2428.5 492.7 2428.2C496.6 2427.9 500.6 2427.5 504.6 2427.1C508.6 2426.6 512.5 2426.1 516.5 2425.5C520.5 2424.9 524.5 2424.2 528.4 2423.4C532.4 2422.6 536.4 2421.6 540.4 2420.5C544.3 2419.4 548.3 2418.1 552.3 2416.6C556.3 2415.1 560.2 2413.5 564.2 2411.6C568.2 2409.7 572.1 2407.6 576.1 2405.3C580.1 2403 584.1 2400.5 588 2397.9C592 2395.3 596 2392.6 600 2389.9C603.9 2387.1 607.9 2384.4 611.9 2381.6C615.9 2378.9 619.8 2376.2 623.8 2373.6C627.8 2371 631.8 2368.5 635.7 2366.2C639.7 2363.9 643.7 2361.8 647.7 2359.9C651.6 2358 655.6 2356.4 659.6 2355C663.6 2353.7 667.5 2352.7 671.5 2352C675.5 2351.4 679.5 2351.1 683.4 2351C687.4 2351 691.4 2351.2 695.4 2351.7C699.3 2352.1 703.3 2352.8 707.3 2353.6C711.3 2354.4 715.2 2355.4 719.2 2356.5C723.2 2357.6 727.2 2358.8 731.1 2360C735.1 2361.2 739.1 2362.5 743.1 2363.8C747 2365 751 2366.3 755 2367.5C758.9 2368.7 762.9 2369.8 766.9 2370.8C770.9 2371.9 774.8 2372.9 778.8 2373.9C782.8 2374.9 786.8 2375.8 790.7 2376.7C794.7 2377.6 798.7 2378.5 802.7 2379.3C806.6 2380.2 810.6 2381 814.6 2381.8C818.6 2382.7 822.5 2383.5 826.5 2384.3C830.5 2385.2 834.5 2386 838.4 2386.8C842.4 2387.7 846.4 2388.5 850.4 2389.4C854.3 2390.3 858.3 2391.2 862.3 2392.2C866.3 2393.1 870.2 2394.1 874.2 2395.2C878.2 2396.2 882.2 2397.3 886.1 2398.4C890.1 2399.5 894.1 2400.7 898.1 2401.8C902 2402.9 906 2404 910 2405C914 2406 917.9 2407 921.9 2407.9C925.9 2408.8 929.8 2409.5 933.8 2410.1C937.8 2410.8 941.8 2411.3 945.7 2411.6C949.7 2411.9 953.7 2412.1 957.7 2412.2C961.6 2412.3 965.6 2412.3 969.6 2412.2C973.6 2412.1 977.5 2411.9 981.5 2411.6C985.5 2411.3 989.5 2411 993.4 2410.6C997.4 2410.2 1001.4 2409.8 1005.4 2409.3C1009.3 2408.8 1013.3 2408.3 1017.3 2407.7C1021.3 2407.1 1025.2 2406.5 1029.2 2405.8C1033.2 2405.1 1037.2 2404.4 1041.1 2403.6C1045.1 2402.9 1049.1 2402 1053.1 2401.2C1057 2400.3 1061 2399.4 1065 2398.4C1069 2397.5 1072.9 2396.5 1076.9 2395.5C1080.9 2394.5 1084.9 2393.6 1088.8 2392.6C1092.8 2391.6 1096.8 2390.6 1100.8 2389.6C1104.7 2388.6 1108.7 2387.7 1112.7 2386.7C1116.6 2385.7 1120.6 2384.8 1124.6 2383.7C1128.6 2382.7 1132.5 2381.6 1136.5 2380.4C1140.5 2379.2 1144.5 2377.9 1148.4 2376.5C1152.4 2375.1 1156.4 2373.6 1160.4 2371.9C1164.3 2370.2 1168.3 2368.4 1172.3 2366.3C1176.3 2364.3 1180.2 2362 1184.2 2359.5C1188.2 2357.1 1192.2 2354.4 1196.1 2351.4C1200.1 2348.4 1204.1 2345.2 1208.1 2341.9C1212 2338.5 1216 2335 1220 2331.5C1224 2327.9 1227.9 2324.3 1231.9 2320.7C1235.9 2317.1 1239.9 2313.5 1243.8 2310C1247.8 2306.6 1251.8 2303.2 1255.8 2300.1C1259.7 2296.9 1263.7 2294 1267.7 2291.3C1271.7 2288.7 1275.6 2286.3 1279.6 2284.4C1283.6 2282.4 1287.5 2280.8 1291.5 2279.6C1295.5 2278.3 1299.5 2277.4 1303.4 2276.9C1307.4 2276.3 1311.4 2276.1 1315.4 2276.1C1319.3 2276.2 1323.3 2276.5 1327.3 2277.2C1331.3 2277.8 1335.2 2278.7 1339.2 2279.8C1343.2 2280.9 1347.2 2282.2 1351.1 2283.8C1355.1 2285.3 1359.1 2287 1363.1 2288.9C1367 2290.9 1371 2292.9 1375 2295.1C1379 2297.3 1382.9 2299.7 1386.9 2302.1C1390.9 2304.5 1394.9 2307.1 1398.8 2309.6C1402.8 2312.2 1406.8 2314.9 1410.8 2317.5C1414.7 2320.2 1418.7 2322.9 1422.7 2325.6C1426.7 2328.3 1430.6 2331 1434.6 2333.6C1438.6 2336.2 1442.6 2338.8 1446.5 2341.3C1450.5 2343.9 1454.5 2346.3 1458.5 2348.6C1462.4 2351 1466.4 2353.2 1470.4 2355.3C1474.3 2357.4 1478.3 2359.5 1482.3 2361.3C1486.3 2363.2 1490.2 2364.9 1494.2 2366.5C1498.2 2368.1 1502.2 2369.5 1506.1 2370.8C1510.1 2372.1 1514.1 2373.1 1518.1 2374C1522 2374.9 1526 2375.7 1530 2376.2C1534 2376.7 1537.9 2377 1541.9 2377C1545.9 2377.1 1549.9 2377 1553.8 2376.7C1557.8 2376.4 1561.8 2376 1565.8 2375.5C1569.7 2375 1573.7 2374.5 1577.7 2373.9C1581.7 2373.4 1585.6 2372.9 1589.6 2372.4C1593.6 2372 1597.6 2371.6 1601.5 2371.3C1605.5 2371 1609.5 2370.7 1613.5 2370.6C1617.4 2370.4 1621.4 2370.4 1625.4 2370.4C1629.4 2370.5 1633.3 2370.6 1637.3 2370.9C1641.3 2371.2 1645.2 2371.6 1649.2 2372.1C1653.2 2372.6 1657.2 2373.3 1661.1 2374.1C1665.1 2374.8 1669.1 2375.7 1673.1 2376.7C1677 2377.6 1681 2378.7 1685 2379.8C1689 2380.9 1692.9 2382.1 1696.9 2383.4C1700.9 2384.6 1704.9 2385.9 1708.8 2387.3C1712.8 2388.6 1716.8 2390 1720.8 2391.4C1724.7 2392.8 1728.7 2394.2 1732.7 2395.6C1736.7 2397 1740.6 2398.4 1744.6 2399.8C1748.6 2401.2 1752.6 2402.6 1756.5 2404C1760.5 2405.3 1764.5 2406.6 1768.5 2407.9C1772.4 2409.2 1776.4 2410.4 1780.4 2411.6C1784.4 2412.7 1788.3 2413.9 1792.3 2414.9C1796.3 2416 1800.3 2417 1804.2 2418C1808.2 2419 1812.2 2419.9 1816.2 2420.8C1820.1 2421.6 1824.1 2422.5 1828.1 2423.2C1832 2424 1836 2424.7 1840 2425.3C1844 2426 1847.9 2426.5 1851.9 2427.1C1855.9 2427.6 1859.9 2428.1 1863.8 2428.5C1867.8 2428.9 1871.8 2429.2 1875.8 2429.5C1879.7 2429.7 1883.7 2429.9 1887.7 2430.1C1891.7 2430.2 1895.6 2430.3 1899.6 2430.3C1903.6 2430.3 1907.6 2430.2 1911.5 2430.1C1915.5 2429.9 1919.5 2429.7 1923.5 2429.4C1927.4 2429.1 1931.4 2428.8 1935.4 2428.3C1939.4 2427.9 1943.3 2427.4 1947.3 2426.8C1951.3 2426.2 1955.3 2425.5 1959.2 2424.8C1963.2 2424 1967.2 2423.2 1971.2 2422.3C1975.1 2421.4 1979.1 2420.4 1983.1 2419.3C1987.1 2418.2 1991 2416.4 1995 2416.4" stroke="#000" stroke-width="10.5" stroke-linejoin="round"/>
<path d="M219.3 2434.2h0M237.4 2434.6h0M255.7 2435h0M274 2435.4h0M292.4 2435.9h0M310.7 2436.3h0M329.1 2436.8h0M346.8 2437.1h0M365.1 2437.5h0M383.5 2437.7h0M400.8 2437.8h0M419.1 2437.9h0M437.5 2437.8h0M455.8 2437.6h0M473.5 2437.2h0M491.9 2436.6h0M510.2 2435.8h0M528.6 2434.7h0M546.9 2433.2h0M565.2 2431.4h0M583.6 2429.1h0M601.9 2426.3h0M619.6 2422.9h0M637 2419.1h0M654.3 2415.7h0M672.7 2413.6h0M690.7 2414h0M709 2416.2h0M727.4 2419.1h0M745.7 2421.7h0M763.4 2423.8h0M781.1 2425.7h0M799.4 2427.5h0M817.8 2429.1h0M836.1 2430.4h0M854.5 2431.6h0M872.8 2432.6h0M890.8 2433.3h0M908.8 2433.9h0M927.2 2434.2h0M945.2 2434.4h0M963.5 2434.5h0M981.6 2434.4h0M999.6 2434.1h0M1017.9 2433.8h0M1035.9 2433.3h0M1054.3 2432.7h0M1072.6 2432h0M1091 2431.2h0M1109.3 2430.4h0M1127.7 2429.5h0M1145.7 2428.4h0M1164 2427h0M1182.1 2425.2h0M1200.1 2422.8h0M1218.4 2419.7h0M1236.8 2415.9h0M1254.4 2412h0M1272.4 2408h0M1290.1 2404.7h0M1307.8 2402.4h0M1326.2 2401.5h0M1344.5 2402.5h0M1362.5 2405h0M1380.9 2408.6h0M1397.9 2412.6h0M1416.2 2417.3h0M1433.9 2421.7h0M1451.9 2425.7h0M1470.2 2429.3h0M1488.3 2432.1h0M1506.3 2434.2h0M1524.6 2435.5h0M1542.6 2435.9h0M1561.7 2435.5h0M1579.7 2434.6h0M1597.7 2433.9h0M1616 2433.7h0M1634.1 2434h0M1652.4 2434.4h0M1670.4 2434.8h0M1688.8 2435.1h0M1706.8 2435.5h0M1725.1 2435.8h0M1743.5 2436.3h0M1761.5 2436.7h0M1779.8 2437.3h0M1797.8 2438h0M1816.2 2438.7h0M1834.2 2439.3h0M1852.5 2439.9h0M1870.5 2440.5h0M1888.9 2440.9h0M1906.9 2441.1h0M1925.3 2441.1h0M1943.6 2440.9h0M1961.6 2440.4h0M1980 2439.6h0" stroke="#a0a0a0" stroke-width="11.5" stroke-linecap="round"/>
<path d="M206.5 2728.3C210.5 2728.3 214.4 2728.4 218.4 2728.4C222.4 2728.4 226.4 2728.4 230.3 2728.5C234.3 2728.5 238.3 2728.6 242.3 2728.6C246.2 2728.7 250.2 2728.7 254.2 2728.8C258.2 2728.8 262.1 2728.9 266.1 2728.9C270.1 2729 274.1 2729 278 2729C282 2729.1 286 2729.1 290 2729.2C293.9 2729.2 297.9 2729.2 301.9 2729.2C305.9 2729.3 309.8 2729.3 313.8 2729.3C317.8 2729.3 321.8 2729.3 325.7 2729.3C329.7 2729.2 333.7 2729.2 337.7 2729.2C341.6 2729.1 345.6 2729.1 349.6 2729C353.6 2728.9 357.5 2728.9 361.5 2728.8C365.5 2728.6 369.5 2728.5 373.4 2728.4C377.4 2728.2 381.4 2728.1 385.4 2727.9C389.3 2727.7 393.3 2727.5 397.3 2727.3C401.2 2727.1 405.2 2726.8 409.2 2726.5C413.2 2726.3 417.1 2726 421.1 2725.6C425.1 2725.3 429.1 2724.9 433 2724.5C437 2724.2 441 2723.7 445 2723.3C448.9 2722.8 452.9 2722.4 456.9 2721.8C460.9 2721.3 464.8 2720.8 468.8 2720.2C472.8 2719.6 476.8 2718.9 480.7 2718.2C484.7 2717.5 488.7 2716.7 492.7 2715.9C496.6 2715 500.6 2714.1 504.6 2713.1C508.6 2712.2 512.5 2711.1 516.5 2709.9C520.5 2708.8 524.5 2707.5 528.4 2706.2C532.4 2704.8 536.4 2703.4 540.4 2701.8C544.3 2700.2 548.3 2698.4 552.3 2696.5C556.3 2694.6 560.2 2692.4 564.2 2690.1C568.2 2687.8 572.1 2685.3 576.1 2682.7C580.1 2680.1 584.1 2677.3 588 2674.5C592 2671.6 596 2668.7 600 2665.7C603.9 2662.8 607.9 2659.8 611.9 2656.9C615.9 2654 619.8 2651.1 623.8 2648.3C627.8 2645.5 631.8 2642.8 635.7 2640.3C639.7 2637.7 643.7 2635.3 647.7 2633.1C651.6 2631 655.6 2629 659.6 2627.2C663.6 2625.5 667.5 2624 671.5 2622.8C675.5 2621.6 679.5 2620.7 683.4 2620C687.4 2619.4 691.4 2619 695.4 2618.7C699.3 2618.5 703.3 2618.5 707.3 2618.7C711.3 2618.9 715.2 2619.2 719.2 2619.6C723.2 2620.1 727.2 2620.6 731.1 2621.2C735.1 2621.7 739.1 2622.3 743.1 2622.9C747 2623.5 751 2624 755 2624.5C758.9 2625 762.9 2625.5 766.9 2626C770.9 2626.4 774.8 2626.8 778.8 2627.3C782.8 2627.7 786.8 2628.1 790.7 2628.5C794.7 2628.9 798.7 2629.3 802.7 2629.7C806.6 2630.1 810.6 2630.5 814.6 2631C818.6 2631.4 822.5 2631.9 826.5 2632.4C830.5 2632.9 834.5 2633.5 838.4 2634.1C842.4 2634.7 846.4 2635.4 850.4 2636.1C854.3 2636.8 858.3 2637.6 862.3 2638.3C866.3 2639.1 870.2 2640 874.2 2640.8C878.2 2641.6 882.2 2642.4 886.1 2643.2C890.1 2644.1 894.1 2644.9 898.1 2645.6C902 2646.4 906 2647.2 910 2647.8C914 2648.5 917.9 2649.2 921.9 2649.7C925.9 2650.3 929.8 2650.8 933.8 2651.2C937.8 2651.7 941.8 2652 945.7 2652.3C949.7 2652.5 953.7 2652.7 957.7 2652.7C961.6 2652.8 965.6 2652.7 969.6 2652.6C973.6 2652.4 977.5 2652.2 981.5 2651.8C985.5 2651.4 989.5 2651 993.4 2650.5C997.4 2649.9 1001.4 2649.3 1005.4 2648.6C1009.3 2647.9 1013.3 2647.1 1017.3 2646.2C1021.3 2645.4 1025.2 2644.4 1029.2 2643.4C1033.2 2642.4 1037.2 2641.4 1041.1 2640.3C1045.1 2639.1 1049.1 2638 1053.1 2636.7C1057 2635.5 1061 2634.2 1065 2632.9C1069 2631.6 1072.9 2630.2 1076.9 2628.9C1080.9 2627.5 1084.9 2626 1088.8 2624.6C1092.8 2623.1 1096.8 2621.6 1100.8 2620.1C1104.7 2618.6 1108.7 2617.1 1112.7 2615.5C1116.6 2614 1120.6 2612.4 1124.6 2610.9C1128.6 2609.3 1132.5 2607.8 1136.5 2606.1C1140.5 2604.5 1144.5 2602.9 1148.4 2601.1C1152.4 2599.3 1156.4 2597.5 1160.4 2595.4C1164.3 2593.4 1168.3 2591.2 1172.3 2588.8C1176.3 2586.4 1180.2 2583.7 1184.2 2580.8C1188.2 2577.9 1192.2 2574.8 1196.1 2571.5C1200.1 2568.2 1204.1 2564.7 1208.1 2561C1212 2557.4 1216 2553.6 1220 2549.8C1224 2546 1227.9 2542.1 1231.9 2538.2C1235.9 2534.2 1239.9 2530.3 1243.8 2526.5C1247.8 2522.6 1251.8 2518.9 1255.8 2515.4C1259.7 2511.9 1263.7 2508.6 1267.7 2505.8C1271.7 2502.9 1275.6 2500.4 1279.6 2498.4C1283.6 2496.4 1287.5 2494.8 1291.5 2493.7C1295.5 2492.6 1299.5 2491.9 1303.4 2491.7C1307.4 2491.5 1311.4 2491.7 1315.4 2492.4C1319.3 2493.1 1323.3 2494.2 1327.3 2495.5C1331.3 2496.9 1335.2 2498.6 1339.2 2500.6C1343.2 2502.5 1347.2 2504.7 1351.1 2507C1355.1 2509.4 1359.1 2511.9 1363.1 2514.6C1367 2517.3 1371 2520.1 1375 2523.1C1379 2526 1382.9 2529 1386.9 2532.1C1390.9 2535.2 1394.9 2538.3 1398.8 2541.5C1402.8 2544.6 1406.8 2547.8 1410.8 2550.9C1414.7 2554.1 1418.7 2557.3 1422.7 2560.4C1426.7 2563.5 1430.6 2566.6 1434.6 2569.6C1438.6 2572.6 1442.6 2575.5 1446.5 2578.4C1450.5 2581.3 1454.5 2584 1458.5 2586.7C1462.4 2589.4 1466.4 2591.9 1470.4 2594.3C1474.3 2596.7 1478.3 2598.9 1482.3 2601C1486.3 2603.1 1490.2 2605 1494.2 2606.7C1498.2 2608.4 1502.2 2609.9 1506.1 2611.2C1510.1 2612.5 1514.1 2613.6 1518.1 2614.5C1522 2615.4 1526 2616.2 1530 2616.7C1534 2617.2 1537.9 2617.6 1541.9 2617.8C1545.9 2617.9 1549.9 2617.9 1553.8 2617.8C1557.8 2617.7 1561.8 2617.5 1565.8 2617.2C1569.7 2617 1573.7 2616.6 1577.7 2616.2C1581.7 2615.8 1585.6 2615.4 1589.6 2615.1C1593.6 2614.7 1597.6 2614.3 1601.5 2613.9C1605.5 2613.6 1609.5 2613.3 1613.5 2613C1617.4 2612.7 1621.4 2612.5 1625.4 2612.4C1629.4 2612.3 1633.3 2612.3 1637.3 2612.3C1641.3 2612.4 1645.2 2612.6 1649.2 2612.9C1653.2 2613.2 1657.2 2613.7 1661.1 2614.3C1665.1 2614.8 1669.1 2615.6 1673.1 2616.5C1677 2617.5 1681 2618.6 1685 2619.9C1689 2621.2 1692.9 2622.8 1696.9 2624.5C1700.9 2626.3 1704.9 2628.2 1708.8 2630.3C1712.8 2632.4 1716.8 2634.6 1720.8 2637C1724.7 2639.3 1728.7 2641.8 1732.7 2644.4C1736.7 2646.9 1740.6 2649.5 1744.6 2652.2C1748.6 2654.9 1752.6 2657.6 1756.5 2660.3C1760.5 2663 1764.5 2665.7 1768.5 2668.3C1772.4 2671 1776.4 2673.6 1780.4 2676.2C1784.4 2678.7 1788.3 2681.2 1792.3 2683.5C1796.3 2685.9 1800.3 2688.1 1804.2 2690.2C1808.2 2692.3 1812.2 2694.2 1816.2 2696.1C1820.1 2698 1824.1 2699.7 1828.1 2701.4C1832 2703.1 1836 2704.7 1840 2706.2C1844 2707.7 1847.9 2709.2 1851.9 2710.6C1855.9 2712 1859.9 2713.4 1863.8 2714.7C1867.8 2716 1871.8 2717.2 1875.8 2718.4C1879.7 2719.5 1883.7 2720.6 1887.7 2721.6C1891.7 2722.6 1895.6 2723.5 1899.6 2724.2C1903.6 2725 1907.6 2725.7 1911.5 2726.3C1915.5 2726.8 1919.5 2727.3 1923.5 2727.6C1927.4 2727.9 1931.4 2728.2 1935.4 2728.3C1939.4 2728.4 1943.3 2728.3 1947.3 2728.2C1951.3 2728.1 1955.3 2727.8 1959.2 2727.4C1963.2 2727.1 1967.2 2726.6 1971.2 2726.1C1975.1 2725.6 1979.1 2725 1983.1 2724.3C1987.1 2723.7 1991 2722.7 1995 2722.7" stroke="#008000" stroke-width="10.5" stroke-linejoin="round"/>
<path d="M219 2734.4h0M232.4 2733.3h0M245.7 2732.8h0M259 2733h0M272.4 2733.5h0M285.7 2734.3h0M299.1 2735.3h0M312.4 2736.3h0M325.8 2737h0M339.1 2737.4h0M352.8 2737.2h0M366.1 2736.8h0M379.5 2736.6h0M392.8 2737h0M406.8 2738.1h0M420.1 2739.3h0M433.5 2739.9h0M446.8 2739.9h0M460.2 2739.4h0M473.5 2738.6h0M486.9 2737.8h0M500.2 2737.3h0M513.5 2737.2h0M527.6 2737.2h0M540.9 2737.1h0M554.6 2736.4h0M567.9 2735h0M581.3 2732.9h0M594.6 2730.3h0M607.6 2727.4h0M620.9 2724.3h0M634.3 2721.3h0M647.6 2718.6h0M660 2716.4h0M673.3 2714.6h0M687 2713.5h0M700.7 2713.2h0M714 2713.8h0M727.7 2715.4h0M741.1 2718h0M754.1 2720.9h0M767.4 2723.8h0M780.8 2725.9h0M794.1 2726.8h0M807.4 2726.8h0M821.1 2726.5h0M835.1 2726.5h0M848.5 2727.2h0M861.5 2728.4h0M874.8 2729.8h0M887.8 2731h0M901.2 2731.9h0M914.5 2732.4h0M927.9 2732.6h0M941.2 2732.5h0M954.5 2732.3h0M968.2 2732.3h0M981.9 2732.9h0M995.2 2733.3h0M1008.6 2732.8h0M1022.2 2731.5h0M1035.6 2730h0M1049.3 2728.7h0M1062.6 2727.9h0M1076 2727.6h0M1089.3 2727.4h0M1103.3 2727.2h0M1116.7 2726.6h0M1130 2725.8h0M1143.4 2724.5h0M1157 2722.9h0M1170 2721h0M1183.7 2718.5h0M1196.7 2715.9h0M1210.1 2712.9h0M1223.4 2709.6h0M1236.1 2706.3h0M1249.4 2702.8h0M1262.4 2699.6h0M1275.5 2696.9h0M1288.5 2694.7h0M1301.8 2693.2h0M1315.5 2692.4h0M1328.8 2692.4h0M1342.2 2693.3h0M1355.5 2694.9h0M1369.2 2697.1h0M1382.5 2699.8h0M1395.5 2702.8h0M1408.9 2706.1h0M1422.2 2709.4h0M1435.2 2712.8h0M1447.6 2715.8h0M1460.9 2718.8h0M1474.2 2721.5h0M1487.3 2723.7h0M1500.6 2725.4h0M1513.9 2726.7h0M1527.3 2727.8h0M1540.6 2728.8h0M1554 2729.8h0M1567.7 2730.8h0M1581.4 2731.7h0M1594.7 2732.3h0M1608 2732.6h0M1621.4 2732.4h0M1634.7 2732.1h0M1648.4 2732h0M1661.7 2732.3h0M1675.4 2733.3h0M1689.1 2734.6h0M1702.4 2735.7h0M1715.8 2736.2h0M1729.5 2735.7h0M1742.8 2735h0M1756.1 2734.8h0M1769.5 2734.9h0M1782.8 2735.3h0M1796.5 2735.7h0M1810.2 2736.1h0M1823.5 2736.5h0M1836.9 2736.8h0M1850.2 2737h0M1863.5 2736.9h0M1877.2 2736.6h0M1890.9 2735.9h0M1904.2 2735.1h0M1917.6 2734.1h0M1930.9 2733.1h0M1944.3 2732.3h0M1957.6 2731.6h0M1971.6 2731.3h0M1985.3 2731.4h0" stroke="#a0a0a0" stroke-width="9" stroke-linecap="round"/>
<path d="M206.5 2946.8C210.5 2946.8 214.4 2947.4 218.4 2947.9C222.4 2948.4 226.4 2948.9 230.3 2949.3C234.3 2949.7 238.3 2950.1 242.3 2950.5C246.2 2950.9 250.2 2951.2 254.2 2951.5C258.2 2951.9 262.1 2952.2 266.1 2952.4C270.1 2952.7 274.1 2952.9 278 2953.2C282 2953.4 286 2953.6 290 2953.8C293.9 2954 297.9 2954.2 301.9 2954.3C305.9 2954.5 309.8 2954.6 313.8 2954.7C317.8 2954.8 321.8 2955 325.7 2955C329.7 2955.1 333.7 2955.2 337.7 2955.3C341.6 2955.4 345.6 2955.4 349.6 2955.5C353.6 2955.6 357.5 2955.6 361.5 2955.6C365.5 2955.7 369.5 2955.7 373.4 2955.8C377.4 2955.8 381.4 2955.8 385.4 2955.9C389.3 2955.9 393.3 2955.9 397.3 2956C401.2 2956 405.2 2956 409.2 2956C413.2 2956.1 417.1 2956.1 421.1 2956.1C425.1 2956.1 429.1 2956.1 433 2956.1C437 2956 441 2956 445 2955.9C448.9 2955.8 452.9 2955.7 456.9 2955.5C460.9 2955.3 464.8 2955.1 468.8 2954.8C472.8 2954.5 476.8 2954.2 480.7 2953.8C484.7 2953.4 488.7 2953 492.7 2952.4C496.6 2951.9 500.6 2951.3 504.6 2950.6C508.6 2949.9 512.5 2949.1 516.5 2948.3C520.5 2947.4 524.5 2946.4 528.4 2945.3C532.4 2944.3 536.4 2943.1 540.4 2941.8C544.3 2940.5 548.3 2939.1 552.3 2937.6C556.3 2936.1 560.2 2934.4 564.2 2932.7C568.2 2930.9 572.1 2929 576.1 2926.9C580.1 2924.9 584.1 2922.8 588 2920.6C592 2918.3 596 2916 600 2913.5C603.9 2911.1 607.9 2908.6 611.9 2906C615.9 2903.4 619.8 2900.7 623.8 2898C627.8 2895.3 631.8 2892.7 635.7 2890.1C639.7 2887.6 643.7 2885.2 647.7 2883.1C651.6 2881 655.6 2879.2 659.6 2877.6C663.6 2876.1 667.5 2874.8 671.5 2873.8C675.5 2872.8 679.5 2872.2 683.4 2871.8C687.4 2871.4 691.4 2871.4 695.4 2871.6C699.3 2871.8 703.3 2872.2 707.3 2872.8C711.3 2873.4 715.2 2874.2 719.2 2875.1C723.2 2876 727.2 2876.9 731.1 2877.9C735.1 2878.9 739.1 2879.9 743.1 2880.8C747 2881.7 751 2882.5 755 2883.3C758.9 2884.1 762.9 2884.8 766.9 2885.5C770.9 2886.1 774.8 2886.8 778.8 2887.4C782.8 2887.9 786.8 2888.5 790.7 2889C794.7 2889.5 798.7 2890.1 802.7 2890.6C806.6 2891 810.6 2891.5 814.6 2892C818.6 2892.5 822.5 2893 826.5 2893.5C830.5 2894 834.5 2894.6 838.4 2895.1C842.4 2895.7 846.4 2896.3 850.4 2896.9C854.3 2897.5 858.3 2898.2 862.3 2898.9C866.3 2899.7 870.2 2900.4 874.2 2901.3C878.2 2902.1 882.2 2903.1 886.1 2904C890.1 2905 894.1 2906 898.1 2907C902 2908 906 2909.1 910 2910C914 2911 917.9 2912 921.9 2912.9C925.9 2913.7 929.8 2914.5 933.8 2915.2C937.8 2915.9 941.8 2916.5 945.7 2917C949.7 2917.5 953.7 2917.8 957.7 2918.1C961.6 2918.3 965.6 2918.5 969.6 2918.6C973.6 2918.7 977.5 2918.6 981.5 2918.6C985.5 2918.5 989.5 2918.3 993.4 2918.1C997.4 2917.9 1001.4 2917.6 1005.4 2917.3C1009.3 2916.9 1013.3 2916.6 1017.3 2916.1C1021.3 2915.7 1025.2 2915.2 1029.2 2914.7C1033.2 2914.2 1037.2 2913.6 1041.1 2913C1045.1 2912.4 1049.1 2911.8 1053.1 2911.1C1057 2910.4 1061 2909.8 1065 2909C1069 2908.3 1072.9 2907.6 1076.9 2906.8C1080.9 2906.1 1084.9 2905.3 1088.8 2904.5C1092.8 2903.8 1096.8 2903 1100.8 2902.2C1104.7 2901.4 1108.7 2900.6 1112.7 2899.8C1116.6 2898.9 1120.6 2898.1 1124.6 2897.1C1128.6 2896.2 1132.5 2895.2 1136.5 2894.2C1140.5 2893.1 1144.5 2891.9 1148.4 2890.6C1152.4 2889.3 1156.4 2887.9 1160.4 2886.4C1164.3 2884.8 1168.3 2883.1 1172.3 2881.2C1176.3 2879.4 1180.2 2877.3 1184.2 2875C1188.2 2872.8 1192.2 2870.3 1196.1 2867.6C1200.1 2865 1204.1 2862.1 1208.1 2859C1212 2856 1216 2852.9 1220 2849.7C1224 2846.5 1227.9 2843.3 1231.9 2840.1C1235.9 2837 1239.9 2833.8 1243.8 2830.8C1247.8 2827.8 1251.8 2824.9 1255.8 2822.3C1259.7 2819.6 1263.7 2817.1 1267.7 2814.9C1271.7 2812.7 1275.6 2810.8 1279.6 2809.2C1283.6 2807.6 1287.5 2806.4 1291.5 2805.6C1295.5 2804.7 1299.5 2804.1 1303.4 2803.8C1307.4 2803.6 1311.4 2803.6 1315.4 2803.9C1319.3 2804.2 1323.3 2804.7 1327.3 2805.5C1331.3 2806.3 1335.2 2807.3 1339.2 2808.5C1343.2 2809.7 1347.2 2811 1351.1 2812.6C1355.1 2814.1 1359.1 2815.8 1363.1 2817.7C1367 2819.5 1371 2821.5 1375 2823.6C1379 2825.7 1382.9 2827.9 1386.9 2830.2C1390.9 2832.4 1394.9 2834.8 1398.8 2837.2C1402.8 2839.6 1406.8 2842 1410.8 2844.5C1414.7 2847 1418.7 2849.5 1422.7 2852C1426.7 2854.5 1430.6 2857 1434.6 2859.4C1438.6 2861.9 1442.6 2864.3 1446.5 2866.7C1450.5 2869.1 1454.5 2871.4 1458.5 2873.6C1462.4 2875.8 1466.4 2878 1470.4 2880C1474.3 2882 1478.3 2883.9 1482.3 2885.7C1486.3 2887.5 1490.2 2889.1 1494.2 2890.5C1498.2 2892 1502.2 2893.3 1506.1 2894.3C1510.1 2895.4 1514.1 2896.3 1518.1 2897.1C1522 2897.8 1526 2898.4 1530 2898.8C1534 2899.2 1537.9 2899.5 1541.9 2899.6C1545.9 2899.8 1549.9 2899.7 1553.8 2899.6C1557.8 2899.5 1561.8 2899.3 1565.8 2899C1569.7 2898.7 1573.7 2898.4 1577.7 2898.1C1581.7 2897.8 1585.6 2897.4 1589.6 2897.1C1593.6 2896.8 1597.6 2896.5 1601.5 2896.3C1605.5 2896 1609.5 2895.8 1613.5 2895.7C1617.4 2895.6 1621.4 2895.5 1625.4 2895.6C1629.4 2895.6 1633.3 2895.7 1637.3 2896C1641.3 2896.2 1645.2 2896.6 1649.2 2897.1C1653.2 2897.6 1657.2 2898.2 1661.1 2899C1665.1 2899.7 1669.1 2900.5 1673.1 2901.4C1677 2902.3 1681 2903.3 1685 2904.4C1689 2905.5 1692.9 2906.6 1696.9 2907.8C1700.9 2909 1704.9 2910.3 1708.8 2911.6C1712.8 2912.9 1716.8 2914.2 1720.8 2915.5C1724.7 2916.9 1728.7 2918.2 1732.7 2919.6C1736.7 2921 1740.6 2922.3 1744.6 2923.7C1748.6 2925.1 1752.6 2926.4 1756.5 2927.7C1760.5 2929 1764.5 2930.3 1768.5 2931.5C1772.4 2932.8 1776.4 2934 1780.4 2935.1C1784.4 2936.3 1788.3 2937.4 1792.3 2938.4C1796.3 2939.5 1800.3 2940.5 1804.2 2941.4C1808.2 2942.4 1812.2 2943.3 1816.2 2944.2C1820.1 2945 1824.1 2945.8 1828.1 2946.6C1832 2947.3 1836 2948 1840 2948.6C1844 2949.3 1847.9 2949.9 1851.9 2950.4C1855.9 2950.9 1859.9 2951.3 1863.8 2951.7C1867.8 2952.1 1871.8 2952.4 1875.8 2952.7C1879.7 2952.9 1883.7 2953.1 1887.7 2953.2C1891.7 2953.4 1895.6 2953.4 1899.6 2953.4C1903.6 2953.4 1907.6 2953.3 1911.5 2953.1C1915.5 2952.9 1919.5 2952.7 1923.5 2952.4C1927.4 2952.1 1931.4 2951.8 1935.4 2951.4C1939.4 2951 1943.3 2950.5 1947.3 2950C1951.3 2949.4 1955.3 2948.9 1959.2 2948.3C1963.2 2947.6 1967.2 2947 1971.2 2946.3C1975.1 2945.6 1979.1 2944.8 1983.1 2944C1987.1 2943.3 1991 2942 1995 2942" stroke="#f00" stroke-width="10.5" stroke-linejoin="round"/>
<path d="M219 2965.3h0M237.4 2965.6h0M255.7 2965.9h0M274 2966.4h0M292.4 2967h0M310.7 2967.6h0M329.1 2968.1h0M346.8 2968.5h0M365.1 2968.7h0M383.5 2968.9h0M400.8 2968.9h0M419.1 2968.8h0M437.5 2968.8h0M455.8 2968.7h0M474.2 2968.6h0M492.5 2968.4h0M510.9 2968h0M528.6 2967.3h0M546.9 2966.1h0M565.2 2964.3h0M583.6 2961.9h0M601.9 2959h0M619.6 2955.9h0M637 2952.7h0M655 2949.7h0M672.7 2947.9h0M690.7 2947.5h0M709 2948.4h0M727.4 2950.3h0M745.7 2952.6h0M764.1 2955h0M782.1 2956.9h0M800.1 2958.2h0M818.4 2959.1h0M836.8 2959.8h0M855.1 2960.7h0M873.1 2961.7h0M891.5 2962.6h0M909.8 2963.3h0M927.9 2963.8h0M946.2 2964h0M964.2 2964.1h0M982.6 2964h0M1000.6 2963.7h0M1018.6 2963.2h0M1036.9 2962.6h0M1054.9 2961.8h0M1073.3 2960.9h0M1091.6 2959.9h0M1110 2958.8h0M1128.4 2957.5h0M1146.4 2956.1h0M1163.7 2954.4h0M1182.1 2952.2h0M1200.4 2949.4h0M1218.4 2946.1h0M1235.8 2942.3h0M1253.8 2938.2h0M1271.4 2934.6h0M1289.8 2931.8h0M1307.8 2930.3h0M1326.2 2930h0M1344.5 2931.1h0M1362.8 2933.3h0M1380.9 2936.2h0M1398.2 2939.5h0M1416.5 2943.1h0M1434.6 2946.5h0M1452.2 2949.5h0M1470.2 2952h0M1488.3 2954.1h0M1506.3 2955.8h0M1524.6 2957.1h0M1543 2958h0M1561.7 2958.5h0M1579.7 2958.8h0M1597.7 2958.9h0M1616 2959h0M1634.1 2959.2h0M1652.4 2959.6h0M1670.4 2960.2h0M1688.8 2961h0M1706.8 2962h0M1725.1 2963h0M1743.5 2963.9h0M1761.5 2964.7h0M1779.8 2965.3h0M1797.8 2965.8h0M1816.2 2966.4h0M1834.2 2967.3h0M1852.5 2968.1h0M1870.5 2968.7h0M1888.9 2968.9h0M1906.9 2968.7h0M1925.3 2968.3h0M1943.6 2967.8h0M1961.6 2967.3h0M1980 2967h0" stroke="#a0a0a0" stroke-width="11.5" stroke-linecap="round"/>
<path d="M206.5 3166C210.5 3166 214.4 3166.4 218.4 3166.7C222.4 3167 226.4 3167.3 230.3 3167.6C234.3 3167.8 238.3 3168.1 242.3 3168.3C246.2 3168.5 250.2 3168.7 254.2 3168.9C258.2 3169.1 262.1 3169.3 266.1 3169.4C270.1 3169.6 274.1 3169.7 278 3169.9C282 3170 286 3170.1 290 3170.2C293.9 3170.3 297.9 3170.3 301.9 3170.4C305.9 3170.5 309.8 3170.5 313.8 3170.5C317.8 3170.6 321.8 3170.6 325.7 3170.6C329.7 3170.6 333.7 3170.6 337.7 3170.6C341.6 3170.6 345.6 3170.5 349.6 3170.5C353.6 3170.4 357.5 3170.4 361.5 3170.3C365.5 3170.2 369.5 3170.2 373.4 3170.1C377.4 3170 381.4 3169.9 385.4 3169.8C389.3 3169.6 393.3 3169.5 397.3 3169.4C401.2 3169.3 405.2 3169.1 409.2 3169C413.2 3168.8 417.1 3168.6 421.1 3168.5C425.1 3168.3 429.1 3168.1 433 3167.9C437 3167.7 441 3167.4 445 3167.2C448.9 3166.9 452.9 3166.6 456.9 3166.3C460.9 3166 464.8 3165.7 468.8 3165.3C472.8 3165 476.8 3164.6 480.7 3164.2C484.7 3163.8 488.7 3163.3 492.7 3162.8C496.6 3162.3 500.6 3161.8 504.6 3161.2C508.6 3160.6 512.5 3160 516.5 3159.2C520.5 3158.4 524.5 3157.6 528.4 3156.6C532.4 3155.6 536.4 3154.5 540.4 3153.3C544.3 3152 548.3 3150.5 552.3 3148.9C556.3 3147.3 560.2 3145.5 564.2 3143.5C568.2 3141.5 572.1 3139.4 576.1 3137.2C580.1 3134.9 584.1 3132.6 588 3130.2C592 3127.8 596 3125.3 600 3122.8C603.9 3120.4 607.9 3117.9 611.9 3115.4C615.9 3113 619.8 3110.5 623.8 3108.2C627.8 3105.8 631.8 3103.5 635.7 3101.3C639.7 3099.1 643.7 3096.9 647.7 3094.9C651.6 3092.9 655.6 3091 659.6 3089.3C663.6 3087.6 667.5 3086 671.5 3084.6C675.5 3083.2 679.5 3082.1 683.4 3081.1C687.4 3080.2 691.4 3079.5 695.4 3079.1C699.3 3078.6 703.3 3078.4 707.3 3078.4C711.3 3078.3 715.2 3078.5 719.2 3078.7C723.2 3079 727.2 3079.4 731.1 3079.8C735.1 3080.2 739.1 3080.7 743.1 3081.1C747 3081.6 751 3082 755 3082.4C758.9 3082.8 762.9 3083.1 766.9 3083.5C770.9 3083.8 774.8 3084.1 778.8 3084.4C782.8 3084.8 786.8 3085.1 790.7 3085.4C794.7 3085.8 798.7 3086.2 802.7 3086.6C806.6 3087 810.6 3087.4 814.6 3088C818.6 3088.5 822.5 3089.1 826.5 3089.7C830.5 3090.3 834.5 3091 838.4 3091.8C842.4 3092.5 846.4 3093.2 850.4 3094C854.3 3094.8 858.3 3095.6 862.3 3096.4C866.3 3097.2 870.2 3097.9 874.2 3098.7C878.2 3099.5 882.2 3100.2 886.1 3100.9C890.1 3101.7 894.1 3102.3 898.1 3103C902 3103.6 906 3104.2 910 3104.8C914 3105.4 917.9 3105.9 921.9 3106.3C925.9 3106.8 929.8 3107.2 933.8 3107.6C937.8 3107.9 941.8 3108.2 945.7 3108.4C949.7 3108.6 953.7 3108.8 957.7 3108.9C961.6 3108.9 965.6 3108.9 969.6 3108.8C973.6 3108.8 977.5 3108.6 981.5 3108.3C985.5 3108.1 989.5 3107.7 993.4 3107.2C997.4 3106.8 1001.4 3106.2 1005.4 3105.6C1009.3 3104.9 1013.3 3104.2 1017.3 3103.4C1021.3 3102.6 1025.2 3101.7 1029.2 3100.8C1033.2 3099.8 1037.2 3098.8 1041.1 3097.8C1045.1 3096.7 1049.1 3095.7 1053.1 3094.6C1057 3093.5 1061 3092.4 1065 3091.2C1069 3090.1 1072.9 3088.9 1076.9 3087.8C1080.9 3086.6 1084.9 3085.4 1088.8 3084.2C1092.8 3083 1096.8 3081.8 1100.8 3080.6C1104.7 3079.3 1108.7 3078.1 1112.7 3076.8C1116.6 3075.5 1120.6 3074.2 1124.6 3072.8C1128.6 3071.4 1132.5 3070 1136.5 3068.5C1140.5 3067 1144.5 3065.4 1148.4 3063.7C1152.4 3062.1 1156.4 3060.3 1160.4 3058.4C1164.3 3056.6 1168.3 3054.6 1172.3 3052.5C1176.3 3050.4 1180.2 3048.2 1184.2 3045.8C1188.2 3043.4 1192.2 3040.9 1196.1 3038.2C1200.1 3035.5 1204.1 3032.7 1208.1 3029.7C1212 3026.7 1216 3023.5 1220 3020.1C1224 3016.7 1227.9 3013.1 1231.9 3009.5C1235.9 3005.9 1239.9 3002.3 1243.8 2998.7C1247.8 2995.1 1251.8 2991.5 1255.8 2988.1C1259.7 2984.7 1263.7 2981.5 1267.7 2978.6C1271.7 2975.6 1275.6 2972.9 1279.6 2970.6C1283.6 2968.3 1287.5 2966.4 1291.5 2965C1295.5 2963.6 1299.5 2962.7 1303.4 2962.2C1307.4 2961.8 1311.4 2961.9 1315.4 2962.4C1319.3 2962.9 1323.3 2963.7 1327.3 2964.9C1331.3 2966.1 1335.2 2967.5 1339.2 2969.2C1343.2 2970.9 1347.2 2972.8 1351.1 2974.8C1355.1 2976.7 1359.1 2978.9 1363.1 2981C1367 2983.1 1371 2985.3 1375 2987.4C1379 2989.5 1382.9 2991.7 1386.9 2993.9C1390.9 2996.2 1394.9 2998.4 1398.8 3000.8C1402.8 3003.2 1406.8 3005.6 1410.8 3008.1C1414.7 3010.7 1418.7 3013.2 1422.7 3015.9C1426.7 3018.5 1430.6 3021.2 1434.6 3023.9C1438.6 3026.6 1442.6 3029.2 1446.5 3031.9C1450.5 3034.5 1454.5 3037.1 1458.5 3039.6C1462.4 3042.2 1466.4 3044.6 1470.4 3046.9C1474.3 3049.2 1478.3 3051.3 1482.3 3053.3C1486.3 3055.3 1490.2 3057.2 1494.2 3058.9C1498.2 3060.6 1502.2 3062.1 1506.1 3063.5C1510.1 3064.9 1514.1 3066.2 1518.1 3067.3C1522 3068.4 1526 3069.3 1530 3070.1C1534 3070.9 1537.9 3071.6 1541.9 3072.1C1545.9 3072.6 1549.9 3072.9 1553.8 3073.1C1557.8 3073.3 1561.8 3073.4 1565.8 3073.3C1569.7 3073.3 1573.7 3073.1 1577.7 3072.9C1581.7 3072.7 1585.6 3072.3 1589.6 3072C1593.6 3071.6 1597.6 3071.2 1601.5 3070.8C1605.5 3070.4 1609.5 3070 1613.5 3069.6C1617.4 3069.2 1621.4 3068.8 1625.4 3068.5C1629.4 3068.2 1633.3 3068 1637.3 3067.8C1641.3 3067.6 1645.2 3067.5 1649.2 3067.6C1653.2 3067.6 1657.2 3067.7 1661.1 3068.1C1665.1 3068.4 1669.1 3068.8 1673.1 3069.5C1677 3070.1 1681 3070.9 1685 3071.9C1689 3072.9 1692.9 3074 1696.9 3075.3C1700.9 3076.6 1704.9 3078 1708.8 3079.5C1712.8 3081.1 1716.8 3082.7 1720.8 3084.5C1724.7 3086.2 1728.7 3088.1 1732.7 3090.1C1736.7 3092 1740.6 3094 1744.6 3096.1C1748.6 3098.2 1752.6 3100.4 1756.5 3102.5C1760.5 3104.7 1764.5 3106.8 1768.5 3109C1772.4 3111.1 1776.4 3113.3 1780.4 3115.4C1784.4 3117.4 1788.3 3119.5 1792.3 3121.4C1796.3 3123.3 1800.3 3125.2 1804.2 3126.9C1808.2 3128.7 1812.2 3130.3 1816.2 3131.9C1820.1 3133.5 1824.1 3135.1 1828.1 3136.6C1832 3138.1 1836 3139.5 1840 3141C1844 3142.4 1847.9 3143.8 1851.9 3145.2C1855.9 3146.6 1859.9 3148.1 1863.8 3149.5C1867.8 3150.9 1871.8 3152.4 1875.8 3153.9C1879.7 3155.3 1883.7 3156.7 1887.7 3158.1C1891.7 3159.5 1895.6 3160.8 1899.6 3162C1903.6 3163.1 1907.6 3164.2 1911.5 3165.2C1915.5 3166.1 1919.5 3166.9 1923.5 3167.5C1927.4 3168.1 1931.4 3168.5 1935.4 3168.7C1939.4 3168.9 1943.3 3169 1947.3 3168.9C1951.3 3168.9 1955.3 3168.7 1959.2 3168.4C1963.2 3168.2 1967.2 3167.8 1971.2 3167.4C1975.1 3166.9 1979.1 3166.5 1983.1 3166C1987.1 3165.4 1991 3164.6 1995 3164.6" stroke="#808000" stroke-width="10.5" stroke-linejoin="round"/>
<path d="M222.3 3172.8h0M240.7 3173.6h0M258.7 3174.2h0M276.7 3174.8h0M295.1 3175.3h0M313.4 3175.7h0M331.8 3176.1h0M349.8 3176.5h0M367.8 3176.8h0M386.1 3177.1h0M404.5 3177.4h0M422.8 3177.6h0M441.2 3177.7h0M459.2 3177.8h0M477.2 3177.8h0M495.5 3177.6h0M513.5 3177.1h0M531.6 3176.2h0M549.9 3174.6h0M567.9 3172.4h0M585.9 3169.4h0M603.9 3165.7h0M621.6 3161.3h0M639.6 3156.5h0M657.3 3152.2h0M675.4 3149.6h0M693.4 3149.6h0M711.7 3151.5h0M729.1 3154.3h0M747.1 3157.3h0M765.4 3160.2h0M783.1 3162.7h0M801.1 3164.6h0M819.4 3166.2h0M837.8 3167.3h0M855.5 3168.1h0M873.5 3168.8h0M892.2 3169.5h0M910.5 3170.1h0M928.9 3170.7h0M946.9 3171.1h0M964.9 3171.5h0M983.2 3171.7h0M1001.2 3171.6h0M1019.6 3171.2h0M1037.6 3170.6h0M1055.6 3169.8h0M1073.9 3168.8h0M1092.3 3167.7h0M1110.7 3166.6h0M1129 3165.4h0M1147.4 3164.1h0M1165.4 3162.4h0M1183.4 3160.1h0M1201.7 3157h0M1219.4 3153.1h0M1237.4 3148.1h0M1254.8 3143h0M1272.4 3138.2h0M1289.8 3134.6h0M1307.8 3132.3h0M1326.2 3131.6h0M1344.5 3132.8h0M1362.8 3135.4h0M1380.9 3139.1h0M1398.5 3143.3h0M1416.5 3147.9h0M1433.9 3152.3h0M1452.2 3156.6h0M1470.2 3160.3h0M1488.3 3163.4h0M1506.6 3166.1h0M1524.6 3168.2h0M1543 3169.7h0M1561.7 3170.5h0M1579.7 3170.9h0M1597.7 3171h0M1616 3170.8h0M1634.1 3170.7h0M1652.4 3170.7h0M1670.4 3170.9h0M1688.8 3171.4h0M1706.8 3172h0M1725.1 3172.7h0M1743.5 3173.5h0M1761.5 3174.2h0M1779.8 3174.8h0M1797.8 3175.2h0M1816.2 3175.6h0M1834.2 3175.7h0M1852.5 3175.6h0M1870.5 3175.3h0M1888.9 3174.8h0M1906.9 3174.1h0M1925.3 3173.2h0M1943.6 3172.2h0M1961.6 3171.3h0M1980 3170.4h0" stroke="#a0a0a0" stroke-width="11.5" stroke-linecap="round"/>
<path d="M206.5 3412.9C210.5 3412.9 214.4 3412.9 218.4 3412.9C222.4 3412.9 226.4 3413 230.3 3413.1C234.3 3413.2 238.3 3413.3 242.3 3413.5C246.2 3413.6 250.2 3413.8 254.2 3414C258.2 3414.2 262.1 3414.4 266.1 3414.6C270.1 3414.8 274.1 3414.9 278 3415.1C282 3415.3 286 3415.5 290 3415.6C293.9 3415.8 297.9 3415.9 301.9 3416C305.9 3416.1 309.8 3416.1 313.8 3416.1C317.8 3416.2 321.8 3416.2 325.7 3416.1C329.7 3416.1 333.7 3416 337.7 3416C341.6 3415.9 345.6 3415.8 349.6 3415.7C353.6 3415.5 357.5 3415.4 361.5 3415.3C365.5 3415.1 369.5 3414.9 373.4 3414.8C377.4 3414.6 381.4 3414.4 385.4 3414.2C389.3 3414 393.3 3413.9 397.3 3413.7C401.2 3413.5 405.2 3413.3 409.2 3413.1C413.2 3412.9 417.1 3412.7 421.1 3412.4C425.1 3412.2 429.1 3412 433 3411.8C437 3411.5 441 3411.3 445 3411C448.9 3410.8 452.9 3410.5 456.9 3410.2C460.9 3409.9 464.8 3409.5 468.8 3409.2C472.8 3408.8 476.8 3408.5 480.7 3408.1C484.7 3407.6 488.7 3407.2 492.7 3406.7C496.6 3406.3 500.6 3405.8 504.6 3405.2C508.6 3404.6 512.5 3404 516.5 3403.3C520.5 3402.6 524.5 3401.8 528.4 3400.9C532.4 3399.9 536.4 3398.9 540.4 3397.7C544.3 3396.5 548.3 3395.2 552.3 3393.6C556.3 3392.1 560.2 3390.4 564.2 3388.6C568.2 3386.7 572.1 3384.7 576.1 3382.6C580.1 3380.5 584.1 3378.3 588 3376C592 3373.7 596 3371.3 600 3369C603.9 3366.6 607.9 3364.1 611.9 3361.7C615.9 3359.3 619.8 3356.9 623.8 3354.6C627.8 3352.2 631.8 3350 635.7 3347.9C639.7 3345.9 643.7 3343.9 647.7 3342.2C651.6 3340.5 655.6 3339.1 659.6 3337.8C663.6 3336.6 667.5 3335.6 671.5 3334.8C675.5 3334.1 679.5 3333.5 683.4 3333.2C687.4 3332.8 691.4 3332.7 695.4 3332.8C699.3 3332.8 703.3 3333.1 707.3 3333.4C711.3 3333.8 715.2 3334.2 719.2 3334.8C723.2 3335.3 727.2 3336 731.1 3336.6C735.1 3337.2 739.1 3337.9 743.1 3338.5C747 3339.1 751 3339.7 755 3340.3C758.9 3340.8 762.9 3341.3 766.9 3341.8C770.9 3342.3 774.8 3342.8 778.8 3343.2C782.8 3343.7 786.8 3344.1 790.7 3344.5C794.7 3345 798.7 3345.4 802.7 3345.8C806.6 3346.2 810.6 3346.6 814.6 3347C818.6 3347.4 822.5 3347.8 826.5 3348.2C830.5 3348.6 834.5 3349 838.4 3349.4C842.4 3349.8 846.4 3350.2 850.4 3350.7C854.3 3351.1 858.3 3351.6 862.3 3352.1C866.3 3352.6 870.2 3353.1 874.2 3353.7C878.2 3354.2 882.2 3354.8 886.1 3355.4C890.1 3356 894.1 3356.6 898.1 3357.1C902 3357.7 906 3358.2 910 3358.7C914 3359.2 917.9 3359.6 921.9 3359.9C925.9 3360.2 929.8 3360.4 933.8 3360.5C937.8 3360.5 941.8 3360.5 945.7 3360.4C949.7 3360.3 953.7 3360.1 957.7 3359.8C961.6 3359.6 965.6 3359.2 969.6 3358.8C973.6 3358.4 977.5 3358 981.5 3357.5C985.5 3357 989.5 3356.4 993.4 3355.9C997.4 3355.3 1001.4 3354.7 1005.4 3354.1C1009.3 3353.4 1013.3 3352.8 1017.3 3352.1C1021.3 3351.4 1025.2 3350.6 1029.2 3349.9C1033.2 3349.1 1037.2 3348.3 1041.1 3347.5C1045.1 3346.7 1049.1 3345.8 1053.1 3344.9C1057 3344 1061 3343.1 1065 3342.2C1069 3341.3 1072.9 3340.3 1076.9 3339.3C1080.9 3338.4 1084.9 3337.4 1088.8 3336.3C1092.8 3335.3 1096.8 3334.3 1100.8 3333.2C1104.7 3332.1 1108.7 3331.1 1112.7 3329.9C1116.6 3328.8 1120.6 3327.7 1124.6 3326.5C1128.6 3325.3 1132.5 3324 1136.5 3322.7C1140.5 3321.4 1144.5 3320 1148.4 3318.6C1152.4 3317.1 1156.4 3315.6 1160.4 3314C1164.3 3312.4 1168.3 3310.7 1172.3 3308.9C1176.3 3307.1 1180.2 3305.2 1184.2 3303.2C1188.2 3301.2 1192.2 3299.1 1196.1 3296.9C1200.1 3294.6 1204.1 3292.2 1208.1 3289.7C1212 3287.2 1216 3284.6 1220 3281.8C1224 3279 1227.9 3276.1 1231.9 3273.1C1235.9 3270.2 1239.9 3267.3 1243.8 3264.4C1247.8 3261.6 1251.8 3258.8 1255.8 3256.2C1259.7 3253.7 1263.7 3251.3 1267.7 3249.3C1271.7 3247.2 1275.6 3245.4 1279.6 3243.9C1283.6 3242.4 1287.5 3241.3 1291.5 3240.5C1295.5 3239.7 1299.5 3239.3 1303.4 3239.3C1307.4 3239.3 1311.4 3239.7 1315.4 3240.3C1319.3 3241 1323.3 3242 1327.3 3243.2C1331.3 3244.4 1335.2 3245.9 1339.2 3247.5C1343.2 3249.2 1347.2 3251 1351.1 3253C1355.1 3255 1359.1 3257.1 1363.1 3259.4C1367 3261.6 1371 3263.8 1375 3266.2C1379 3268.5 1382.9 3270.8 1386.9 3273.2C1390.9 3275.6 1394.9 3278.1 1398.8 3280.5C1402.8 3283 1406.8 3285.4 1410.8 3287.9C1414.7 3290.4 1418.7 3292.8 1422.7 3295.3C1426.7 3297.7 1430.6 3300.1 1434.6 3302.5C1438.6 3304.9 1442.6 3307.2 1446.5 3309.5C1450.5 3311.8 1454.5 3314 1458.5 3316.1C1462.4 3318.2 1466.4 3320.2 1470.4 3322.1C1474.3 3324 1478.3 3325.8 1482.3 3327.4C1486.3 3329.1 1490.2 3330.6 1494.2 3331.9C1498.2 3333.3 1502.2 3334.5 1506.1 3335.6C1510.1 3336.6 1514.1 3337.5 1518.1 3338.3C1522 3339 1526 3339.6 1530 3340C1534 3340.5 1537.9 3340.8 1541.9 3341.1C1545.9 3341.4 1549.9 3341.6 1553.8 3341.8C1557.8 3341.9 1561.8 3342.1 1565.8 3342.2C1569.7 3342.3 1573.7 3342.4 1577.7 3342.4C1581.7 3342.5 1585.6 3342.6 1589.6 3342.6C1593.6 3342.7 1597.6 3342.8 1601.5 3342.9C1605.5 3343 1609.5 3343.1 1613.5 3343.2C1617.4 3343.4 1621.4 3343.5 1625.4 3343.8C1629.4 3344 1633.3 3344.3 1637.3 3344.6C1641.3 3345 1645.2 3345.4 1649.2 3345.8C1653.2 3346.3 1657.2 3346.9 1661.1 3347.5C1665.1 3348.1 1669.1 3348.9 1673.1 3349.7C1677 3350.6 1681 3351.5 1685 3352.6C1689 3353.6 1692.9 3354.8 1696.9 3356.1C1700.9 3357.5 1704.9 3358.9 1708.8 3360.4C1712.8 3361.9 1716.8 3363.5 1720.8 3365.1C1724.7 3366.8 1728.7 3368.5 1732.7 3370.2C1736.7 3371.9 1740.6 3373.7 1744.6 3375.5C1748.6 3377.3 1752.6 3379 1756.5 3380.8C1760.5 3382.5 1764.5 3384.3 1768.5 3386C1772.4 3387.7 1776.4 3389.3 1780.4 3390.9C1784.4 3392.4 1788.3 3393.9 1792.3 3395.3C1796.3 3396.7 1800.3 3398 1804.2 3399.2C1808.2 3400.3 1812.2 3401.4 1816.2 3402.4C1820.1 3403.4 1824.1 3404.3 1828.1 3405.1C1832 3405.9 1836 3406.6 1840 3407.3C1844 3407.9 1847.9 3408.5 1851.9 3409C1855.9 3409.5 1859.9 3410 1863.8 3410.4C1867.8 3410.8 1871.8 3411.2 1875.8 3411.5C1879.7 3411.9 1883.7 3412.2 1887.7 3412.4C1891.7 3412.7 1895.6 3413 1899.6 3413.2C1903.6 3413.4 1907.6 3413.6 1911.5 3413.8C1915.5 3414 1919.5 3414.2 1923.5 3414.4C1927.4 3414.5 1931.4 3414.6 1935.4 3414.6C1939.4 3414.7 1943.3 3414.6 1947.3 3414.5C1951.3 3414.4 1955.3 3414.3 1959.2 3414C1963.2 3413.7 1967.2 3413.4 1971.2 3412.9C1975.1 3412.4 1979.1 3411.8 1983.1 3411.1C1987.1 3410.4 1991 3409 1995 3409" stroke="#00f" stroke-width="10.5" stroke-linejoin="round"/>
<path d="M222.7 3417.2h0M241 3417.7h0M259.4 3418.3h0M277.4 3419h0M295.7 3419.8h0M314.1 3420.5h0M332.4 3421.3h0M350.4 3421.9h0M368.8 3422.3h0M386.8 3422.7h0M405.1 3422.9h0M423.5 3422.9h0M441.5 3422.9h0M459.8 3422.7h0M477.9 3422.5h0M496.2 3422.1h0M514.2 3421.4h0M532.2 3420.2h0M550.6 3418.5h0M568.9 3416.1h0M586.9 3413.1h0M605.3 3409.4h0M622.9 3405.6h0M641 3401.7h0M658.3 3398.6h0M676.7 3396.7h0M695 3396.7h0M713.4 3398.4h0M731.7 3401.2h0M749.1 3404.5h0M767.1 3408h0M785.1 3411h0M802.8 3413h0M820.8 3414.3h0M839.1 3415.4h0M857.1 3416.6h0M875.5 3418h0M893.8 3419.3h0M911.8 3420.2h0M930.2 3420.9h0M948.5 3421.4h0M966.9 3421.6h0M984.9 3421.7h0M1002.9 3421.7h0M1021.2 3421.5h0M1039.3 3421.3h0M1057.6 3420.8h0M1075.6 3420.2h0M1094 3419.4h0M1112.3 3418.2h0M1130.7 3416.8h0M1148.7 3415h0M1167 3412.8h0M1185.4 3410h0M1203.4 3406.8h0M1221.1 3402.9h0M1238.8 3398.5h0M1256.4 3393.9h0M1274.1 3389.4h0M1291.5 3385.7h0M1309.5 3382.9h0M1327.5 3381.7h0M1345.8 3382.4h0M1364.2 3384.7h0M1381.9 3388.1h0M1399.5 3392.3h0M1417.2 3396.8h0M1435.2 3401.3h0M1452.9 3405.3h0M1471.2 3408.9h0M1488.6 3411.8h0M1506.3 3414.3h0M1524.6 3416.4h0M1543 3417.9h0M1561.7 3418.8h0M1579.7 3419.3h0M1597.7 3419.5h0M1616 3419.6h0M1634.1 3419.6h0M1652.4 3419.8h0M1670.4 3420.2h0M1688.8 3420.6h0M1706.8 3420.8h0M1725.1 3420.7h0M1743.5 3420.4h0M1761.5 3420.1h0M1779.8 3419.9h0M1797.8 3420.1h0M1816.2 3420.4h0M1834.2 3421h0M1852.5 3421.4h0M1870.5 3421.2h0M1888.9 3420.3h0M1906.9 3418.8h0M1925.3 3417.2h0M1943.6 3415.8h0M1961.6 3414.9h0M1980 3415.1h0" stroke="#a0a0a0" stroke-width="11.5" stroke-linecap="round"/>
</g>
<path d="M693.4 2059V2212.8M693.4 2332.2V3480M842.5 2059V2239.1M842.5 2357.9V3480M1333.7 2059V2137.7M1333.7 2256.2V3480M1639.2 2059V2231.8M1639.2 2351.2V3480" fill="none" stroke="#000" stroke-width="5"/>
<path d="M1722.5 2085.9V2226.6" fill="none" stroke="#000" stroke-width="5" stroke-linecap="round"/>
<text transform="translate(240.1 2166.8) scale(1.0359 1)" font-size="96">(b)</text>
<text transform="translate(578.1 2297) scale(0.9539 1)" font-size="76.5">2852</text>
<text transform="translate(797 2323.4) scale(0.9496 1)" font-size="76.5">2870</text>
<text transform="translate(1281.4 2221) scale(0.9432 1)" font-size="76.5">2925</text>
<text transform="translate(1572.9 2316.1) scale(0.9475 1)" font-size="76.5">2958</text>
<text transform="translate(1738.1 2172) scale(0.9437 1)" font-size="76.5">0.05 a.u.</text>
<text transform="translate(342.1 2384.2) scale(0.9826 1)" font-size="74">HBeta</text>
<text transform="translate(242.6 2665) scale(0.9752 1)" font-size="74">Zn/HBeta-S</text>
<text transform="translate(238.3 2899.6) scale(0.9731 1)" font-size="74">Zn/HBeta-C</text>
<text transform="translate(238.3 3092.7) scale(0.9718 1)" font-size="74">Zn/HBeta-Ac</text>
<text transform="translate(233.3 3363.6) scale(0.9675 1)" font-size="74">Zn/HBeta-N</text>
<text transform="translate(124.4 3593.2) scale(0.9780 1)" font-size="86">2800</text>
<text transform="translate(570.1 3593.2) scale(0.9780 1)" font-size="86">2850</text>
<text transform="translate(1015.9 3593.2) scale(0.9780 1)" font-size="86">2900</text>
<text transform="translate(1461.6 3593.2) scale(0.9780 1)" font-size="86">2950</text>
<text transform="translate(1907.4 3593.2) scale(0.9780 1)" font-size="86">3000</text>
<g><text transform="translate(752 3745.8) scale(0.9799 1)" font-size="86">Wavenumber (cm</text><text transform="translate(1350.6 3698) scale(1.6188 1)" font-size="50">−</text><text transform="translate(1399.1 3698) scale(0.9300 1)" font-size="50">1</text><text transform="translate(1423.7 3745.8) scale(1.0000 1)" font-size="86">)</text></g>
<text transform="translate(98.5 2944.1) rotate(-90) scale(0.9992 1)" font-size="86">Intensity (a.u.)</text>
</g>
</svg>
</body></html>
